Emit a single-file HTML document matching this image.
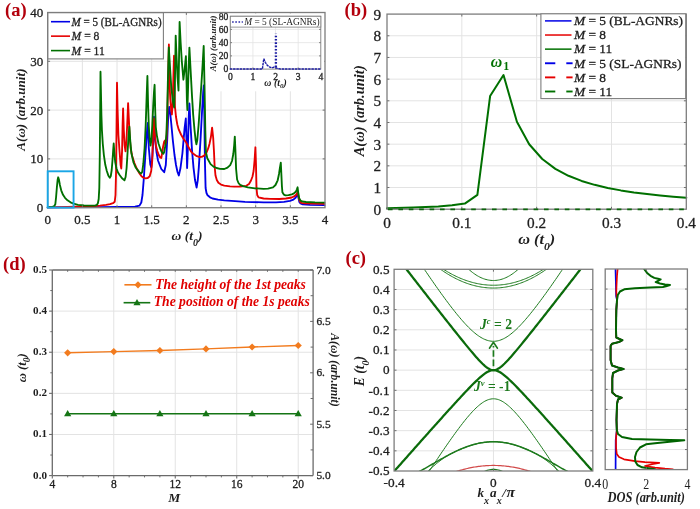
<!DOCTYPE html>
<html><head><meta charset="utf-8"><title>figure</title>
<style>html,body{margin:0;padding:0;background:#fff;} svg{display:block;}</style>
</head><body>
<svg width="700" height="509" viewBox="0 0 700 509">
<rect width="700" height="509" fill="#ffffff"/>
<g style="will-change:transform">
<line x1="82.36" y1="12.50" x2="82.36" y2="207.70" stroke="#e3e3e3" stroke-width="1" />
<line x1="117.03" y1="12.50" x2="117.03" y2="207.70" stroke="#e3e3e3" stroke-width="1" />
<line x1="151.69" y1="12.50" x2="151.69" y2="207.70" stroke="#e3e3e3" stroke-width="1" />
<line x1="186.35" y1="12.50" x2="186.35" y2="207.70" stroke="#e3e3e3" stroke-width="1" />
<line x1="221.01" y1="12.50" x2="221.01" y2="207.70" stroke="#e3e3e3" stroke-width="1" />
<line x1="255.68" y1="12.50" x2="255.68" y2="207.70" stroke="#e3e3e3" stroke-width="1" />
<line x1="290.34" y1="12.50" x2="290.34" y2="207.70" stroke="#e3e3e3" stroke-width="1" />
<line x1="47.70" y1="158.90" x2="325.00" y2="158.90" stroke="#e3e3e3" stroke-width="1" />
<line x1="47.70" y1="110.10" x2="325.00" y2="110.10" stroke="#e3e3e3" stroke-width="1" />
<line x1="47.70" y1="61.30" x2="325.00" y2="61.30" stroke="#e3e3e3" stroke-width="1" />
<polyline points="47.70,207.30 100.00,207.10 135.00,206.60 139.50,205.60 141.30,202.50 142.50,195.00 143.70,180.00 145.50,153.30 147.20,128.30 147.80,123.00 148.80,148.00 150.30,164.50 151.30,167.50 152.50,155.00 153.30,140.00 154.00,116.70 155.20,140.00 156.50,152.00 158.00,160.50 161.30,169.00 164.20,172.20 165.80,165.00 167.20,140.00 168.30,115.00 169.20,107.00 170.30,114.00 171.30,124.00 172.80,140.00 174.50,155.00 176.00,165.00 177.50,172.00 178.80,175.50 180.50,168.00 182.40,153.50 184.60,128.00 185.80,118.50 186.50,140.00 187.10,168.00 187.80,150.00 188.70,118.00 189.40,103.50 190.50,125.00 192.00,150.00 193.50,167.60 195.00,180.00 196.60,187.60 197.80,180.00 198.80,167.60 200.50,140.00 202.00,112.00 203.20,92.00 203.80,85.50 204.40,120.00 204.90,160.00 205.60,188.00 206.50,193.00 207.60,195.30 210.00,197.30 212.50,198.50 218.00,199.70 224.30,200.40 235.00,201.20 245.00,201.80 263.60,202.40 276.00,202.40 284.00,201.80 290.00,200.80 293.40,199.60 295.80,197.50 297.30,193.80 298.30,197.00 299.30,201.80 300.50,203.30 302.80,204.40 310.00,204.90 324.50,205.20" fill="none" stroke="#0000e6" stroke-width="1.85" stroke-linejoin="round" stroke-linecap="round" />
<polyline points="47.70,207.40 60.00,207.20 75.00,206.70 90.00,206.30 100.00,205.60 106.00,204.90 110.00,204.20 113.00,203.20 114.70,201.80 115.50,195.00 116.10,170.00 116.50,130.00 117.00,82.70 117.60,110.00 118.40,135.00 119.60,152.00 120.60,165.00 121.30,168.50 122.10,150.00 122.60,125.00 123.10,108.50 123.80,130.00 124.60,145.00 125.50,151.30 126.50,140.00 127.40,120.00 128.10,103.10 128.80,118.00 129.60,135.00 130.60,148.00 132.20,156.00 134.40,163.00 137.00,169.00 139.50,173.50 141.50,176.20 143.50,177.70 145.50,178.30 147.70,178.00 149.70,176.30 151.20,171.00 152.20,161.00 152.90,140.00 153.40,125.00 154.00,118.30 154.80,133.00 155.80,145.00 157.30,151.00 158.80,155.00 160.20,157.60 161.30,158.00 162.30,152.00 163.20,146.00 164.20,141.50 164.90,140.60 165.50,144.00 166.30,142.00 167.10,125.00 167.80,95.00 168.50,60.00 168.90,44.40 169.40,80.00 170.30,99.00 171.20,110.00 171.90,114.50 172.60,104.00 173.30,80.00 174.00,55.70 174.50,85.00 174.90,106.00 176.00,117.00 177.30,124.50 178.70,129.40 181.00,134.50 183.60,139.00 186.00,142.20 188.20,146.50 190.90,151.30 193.00,153.60 196.80,156.20 199.50,157.00 201.70,156.90 204.20,155.60 206.60,152.30 208.30,148.20 209.60,143.40 210.90,137.00 212.10,127.70 213.20,138.00 214.00,152.00 214.60,166.00 215.50,175.50 216.80,180.00 218.40,182.80 221.00,184.60 224.30,185.60 230.00,186.40 234.20,186.70 240.00,186.50 246.30,185.80 249.00,184.00 251.00,180.50 252.50,176.50 253.60,171.00 254.60,160.00 255.40,147.30 256.00,165.00 256.50,188.00 257.20,195.00 258.50,197.40 263.60,198.50 270.00,198.90 279.30,199.00 286.00,198.50 291.80,197.50 294.50,196.20 296.40,194.50 297.80,191.80 298.90,198.50 300.00,201.50 301.30,202.80 305.00,203.40 324.50,203.80" fill="none" stroke="#e60000" stroke-width="1.85" stroke-linejoin="round" stroke-linecap="round" />
<polyline points="47.70,207.20 50.00,207.10 52.50,206.80 54.30,206.00 55.30,204.30 56.10,197.00 56.90,187.00 57.60,180.00 58.20,177.30 58.90,179.50 59.90,185.00 61.20,190.30 63.00,194.80 65.00,197.80 67.50,200.30 70.50,202.30 73.60,203.70 78.00,204.80 84.00,205.50 90.00,205.70 95.00,205.60 96.80,205.00 97.90,203.20 98.70,199.00 99.30,188.00 99.80,155.00 100.20,110.00 100.50,71.70 100.90,90.00 101.40,115.00 101.90,129.70 102.80,144.00 103.90,155.30 105.30,164.80 106.80,171.00 108.30,175.40 109.80,177.70 110.80,176.00 111.70,170.00 112.60,159.00 113.20,150.00 113.70,143.50 114.30,152.00 115.20,162.00 116.50,168.50 118.00,172.50 119.60,175.00 122.00,178.30 124.50,180.30 125.60,177.00 126.60,168.00 127.60,152.00 128.60,135.00 129.40,126.70 130.20,140.00 131.40,153.30 133.50,162.50 135.50,167.20 137.30,169.70 139.30,172.20 141.00,173.60 142.20,172.00 143.30,164.00 144.60,148.00 145.70,125.00 146.70,95.00 147.40,76.00 148.10,105.00 148.80,126.00 149.60,139.00 150.50,145.50 151.40,140.00 152.30,125.00 153.20,106.00 154.00,92.00 154.60,84.80 155.20,110.00 155.80,127.00 157.00,136.50 158.50,143.50 160.20,148.50 161.80,152.00 163.30,153.80 164.20,152.00 165.30,146.00 166.40,134.00 167.20,112.00 167.90,80.00 168.80,47.40 169.80,64.00 171.20,86.00 172.80,101.00 174.20,107.50 174.80,88.00 175.30,60.00 175.70,35.60 176.50,56.00 177.50,77.00 178.50,90.50 179.00,60.00 179.60,21.90 180.60,42.00 181.80,61.00 183.40,79.70 184.60,70.00 185.90,56.20 186.40,75.00 186.90,100.00 187.40,110.00 188.00,90.00 188.70,65.00 189.40,47.60 190.60,70.00 192.00,96.00 193.20,115.00 194.50,130.00 195.60,140.00 196.40,144.40 197.30,140.00 198.60,125.00 200.00,105.00 201.40,84.00 202.60,65.00 203.70,45.90 204.50,85.00 205.30,130.00 205.90,152.00 207.30,158.20 210.60,164.10 213.50,166.60 216.50,168.00 220.00,168.90 224.30,169.00 227.50,167.60 230.20,165.10 232.00,161.00 233.30,154.00 234.20,145.00 234.80,136.60 235.40,150.00 236.10,169.00 237.10,179.50 238.50,183.00 240.10,184.80 243.00,186.20 247.90,187.30 255.00,188.30 263.60,188.80 268.00,188.60 273.00,187.40 275.50,185.00 277.70,180.30 279.00,174.00 279.90,168.00 280.80,162.70 281.40,175.00 281.90,186.00 282.40,192.30 283.80,194.60 285.50,195.30 288.50,195.10 291.80,194.30 294.00,193.30 295.80,191.80 296.80,189.60 297.60,187.30 298.40,194.00 299.20,198.30 300.50,200.40 302.00,201.40 306.00,202.00 315.00,202.40 324.50,202.60" fill="none" stroke="#007000" stroke-width="1.85" stroke-linejoin="round" stroke-linecap="round" />
<line x1="82.36" y1="207.70" x2="82.36" y2="205.30" stroke="#6e6e6e" stroke-width="1.0" />
<line x1="82.36" y1="12.50" x2="82.36" y2="14.90" stroke="#6e6e6e" stroke-width="1.0" />
<line x1="117.03" y1="207.70" x2="117.03" y2="205.30" stroke="#6e6e6e" stroke-width="1.0" />
<line x1="117.03" y1="12.50" x2="117.03" y2="14.90" stroke="#6e6e6e" stroke-width="1.0" />
<line x1="151.69" y1="207.70" x2="151.69" y2="205.30" stroke="#6e6e6e" stroke-width="1.0" />
<line x1="151.69" y1="12.50" x2="151.69" y2="14.90" stroke="#6e6e6e" stroke-width="1.0" />
<line x1="186.35" y1="207.70" x2="186.35" y2="205.30" stroke="#6e6e6e" stroke-width="1.0" />
<line x1="186.35" y1="12.50" x2="186.35" y2="14.90" stroke="#6e6e6e" stroke-width="1.0" />
<line x1="221.01" y1="207.70" x2="221.01" y2="205.30" stroke="#6e6e6e" stroke-width="1.0" />
<line x1="221.01" y1="12.50" x2="221.01" y2="14.90" stroke="#6e6e6e" stroke-width="1.0" />
<line x1="255.68" y1="207.70" x2="255.68" y2="205.30" stroke="#6e6e6e" stroke-width="1.0" />
<line x1="255.68" y1="12.50" x2="255.68" y2="14.90" stroke="#6e6e6e" stroke-width="1.0" />
<line x1="290.34" y1="207.70" x2="290.34" y2="205.30" stroke="#6e6e6e" stroke-width="1.0" />
<line x1="290.34" y1="12.50" x2="290.34" y2="14.90" stroke="#6e6e6e" stroke-width="1.0" />
<line x1="47.70" y1="158.90" x2="50.10" y2="158.90" stroke="#6e6e6e" stroke-width="1.0" />
<line x1="325.00" y1="158.90" x2="322.60" y2="158.90" stroke="#6e6e6e" stroke-width="1.0" />
<line x1="47.70" y1="110.10" x2="50.10" y2="110.10" stroke="#6e6e6e" stroke-width="1.0" />
<line x1="325.00" y1="110.10" x2="322.60" y2="110.10" stroke="#6e6e6e" stroke-width="1.0" />
<line x1="47.70" y1="61.30" x2="50.10" y2="61.30" stroke="#6e6e6e" stroke-width="1.0" />
<line x1="325.00" y1="61.30" x2="322.60" y2="61.30" stroke="#6e6e6e" stroke-width="1.0" />
<rect x="47.6" y="12.6" width="115.8" height="46.3" fill="#ffffff" stroke="#7d7d7d" stroke-width="1.1"/>
<line x1="51.00" y1="21.70" x2="70.00" y2="21.70" stroke="#0000e6" stroke-width="1.6" />
<text x="71.6" y="25.80" font-family="Liberation Serif" font-size="11.6" fill="#1e1e1e" stroke="#1e1e1e" stroke-width="0.28" textLength="90" lengthAdjust="spacingAndGlyphs"><tspan font-style="italic">M</tspan> = 5 (BL-AGNRs)</text>
<line x1="51.00" y1="36.15" x2="70.00" y2="36.15" stroke="#e60000" stroke-width="1.6" />
<text x="71.6" y="40.25" font-family="Liberation Serif" font-size="11.6" fill="#1e1e1e" stroke="#1e1e1e" stroke-width="0.28"><tspan font-style="italic">M</tspan> = 8</text>
<line x1="51.00" y1="50.60" x2="70.00" y2="50.60" stroke="#007000" stroke-width="1.6" />
<text x="71.6" y="54.70" font-family="Liberation Serif" font-size="11.6" fill="#1e1e1e" stroke="#1e1e1e" stroke-width="0.28"><tspan font-style="italic">M</tspan> = 11</text>
<rect x="206" y="13.3" width="118.3" height="78" fill="#ffffff"/>
<line x1="252.93" y1="16.20" x2="252.93" y2="69.10" stroke="#e3e3e3" stroke-width="0.8" />
<line x1="275.55" y1="16.20" x2="275.55" y2="69.10" stroke="#e3e3e3" stroke-width="0.8" />
<line x1="298.18" y1="16.20" x2="298.18" y2="69.10" stroke="#e3e3e3" stroke-width="0.8" />
<line x1="230.30" y1="55.88" x2="320.80" y2="55.88" stroke="#e3e3e3" stroke-width="0.8" />
<line x1="230.30" y1="42.65" x2="320.80" y2="42.65" stroke="#e3e3e3" stroke-width="0.8" />
<line x1="230.30" y1="29.42" x2="320.80" y2="29.42" stroke="#e3e3e3" stroke-width="0.8" />
<line x1="252.93" y1="69.10" x2="252.93" y2="67.50" stroke="#6e6e6e" stroke-width="1.0" />
<line x1="252.93" y1="16.20" x2="252.93" y2="17.80" stroke="#6e6e6e" stroke-width="1.0" />
<line x1="275.55" y1="69.10" x2="275.55" y2="67.50" stroke="#6e6e6e" stroke-width="1.0" />
<line x1="275.55" y1="16.20" x2="275.55" y2="17.80" stroke="#6e6e6e" stroke-width="1.0" />
<line x1="298.18" y1="69.10" x2="298.18" y2="67.50" stroke="#6e6e6e" stroke-width="1.0" />
<line x1="298.18" y1="16.20" x2="298.18" y2="17.80" stroke="#6e6e6e" stroke-width="1.0" />
<line x1="230.30" y1="55.88" x2="231.90" y2="55.88" stroke="#6e6e6e" stroke-width="1.0" />
<line x1="320.80" y1="55.88" x2="319.20" y2="55.88" stroke="#6e6e6e" stroke-width="1.0" />
<line x1="230.30" y1="42.65" x2="231.90" y2="42.65" stroke="#6e6e6e" stroke-width="1.0" />
<line x1="320.80" y1="42.65" x2="319.20" y2="42.65" stroke="#6e6e6e" stroke-width="1.0" />
<line x1="230.30" y1="29.42" x2="231.90" y2="29.42" stroke="#6e6e6e" stroke-width="1.0" />
<line x1="320.80" y1="29.42" x2="319.20" y2="29.42" stroke="#6e6e6e" stroke-width="1.0" />
<rect x="230.3" y="16.2" width="90.50" height="52.90" fill="none" stroke="#7d7d7d" stroke-width="0.9"/>
<polyline points="230.30,69.00 262.40,69.00 263.20,63.00 263.80,58.70 265.30,62.30 267.30,65.30 270.00,67.20 272.50,67.80 274.60,66.80 275.60,67.20" fill="none" stroke="#1c1ca4" stroke-width="1.45" stroke-linejoin="round" stroke-linecap="round" stroke-dasharray="1.4 1.9" stroke-linecap="butt"/>
<polyline points="275.90,67.60 277.50,68.50 280.00,68.90 320.80,68.90" fill="none" stroke="#1c1ca4" stroke-width="1.45" stroke-linejoin="round" stroke-linecap="round" stroke-dasharray="1.4 1.9" stroke-linecap="butt"/>
<line x1="275.90" y1="67.00" x2="275.90" y2="33.80" stroke="#1c1ca4" stroke-width="2.3" stroke-dasharray="1.6 1.7"/>
<rect x="230.3" y="16.3" width="90.50" height="10.8" fill="#ffffff" stroke="#7d7d7d" stroke-width="0.8"/>
<line x1="232.10" y1="22.00" x2="242.90" y2="22.00" stroke="#2a2aa8" stroke-width="1.5" stroke-dasharray="1.6 1.6"/>
<text x="244.3" y="25.2" font-family="Liberation Serif" font-size="9.4" fill="#1e1e1e"><tspan font-style="italic">M</tspan> = 5 (SL-AGNRs)</text>
<text x="228.30" y="72.40" font-family="Liberation Serif" font-size="9.6" font-weight="normal" font-style="normal" fill="#1e1e1e" text-anchor="end" stroke="#1e1e1e" stroke-width="0.3" >0</text>
<text x="228.30" y="59.17" font-family="Liberation Serif" font-size="9.6" font-weight="normal" font-style="normal" fill="#1e1e1e" text-anchor="end" stroke="#1e1e1e" stroke-width="0.3" >20</text>
<text x="228.30" y="45.95" font-family="Liberation Serif" font-size="9.6" font-weight="normal" font-style="normal" fill="#1e1e1e" text-anchor="end" stroke="#1e1e1e" stroke-width="0.3" >40</text>
<text x="228.30" y="32.72" font-family="Liberation Serif" font-size="9.6" font-weight="normal" font-style="normal" fill="#1e1e1e" text-anchor="end" stroke="#1e1e1e" stroke-width="0.3" >60</text>
<text x="228.30" y="19.50" font-family="Liberation Serif" font-size="9.6" font-weight="normal" font-style="normal" fill="#1e1e1e" text-anchor="end" stroke="#1e1e1e" stroke-width="0.3" >80</text>
<text x="230.30" y="79.50" font-family="Liberation Serif" font-size="9.6" font-weight="normal" font-style="normal" fill="#1e1e1e" text-anchor="middle" stroke="#1e1e1e" stroke-width="0.3" >0</text>
<text x="252.93" y="79.50" font-family="Liberation Serif" font-size="9.6" font-weight="normal" font-style="normal" fill="#1e1e1e" text-anchor="middle" stroke="#1e1e1e" stroke-width="0.3" >1</text>
<text x="275.55" y="79.50" font-family="Liberation Serif" font-size="9.6" font-weight="normal" font-style="normal" fill="#1e1e1e" text-anchor="middle" stroke="#1e1e1e" stroke-width="0.3" >2</text>
<text x="298.18" y="79.50" font-family="Liberation Serif" font-size="9.6" font-weight="normal" font-style="normal" fill="#1e1e1e" text-anchor="middle" stroke="#1e1e1e" stroke-width="0.3" >3</text>
<text x="320.80" y="79.50" font-family="Liberation Serif" font-size="9.6" font-weight="normal" font-style="normal" fill="#1e1e1e" text-anchor="middle" stroke="#1e1e1e" stroke-width="0.3" >4</text>
<text x="275.5" y="86.2" font-family="Liberation Serif" font-size="9.8" font-style="italic" font-weight="bold" fill="#1e1e1e" text-anchor="middle">ω (t<tspan font-size="7" dy="2">0</tspan><tspan dy="-2">)</tspan></text>
<text transform="translate(215.6,43.5) rotate(-90)" font-family="Liberation Serif" font-size="8.9" font-style="italic" font-weight="bold" fill="#1e1e1e" text-anchor="middle">A(ω) (arb.unit)</text>
<rect x="47.7" y="12.5" width="277.30" height="195.20" fill="none" stroke="#7d7d7d" stroke-width="1.3"/>
<rect x="47.70" y="171.3" width="25.86" height="36.30" fill="none" stroke="#1aa6e6" stroke-width="1.9"/>
<text x="43.30" y="212.10" font-family="Liberation Serif" font-size="13" font-weight="normal" font-style="normal" fill="#1e1e1e" text-anchor="end" stroke="#1e1e1e" stroke-width="0.3" >0</text>
<text x="43.30" y="163.30" font-family="Liberation Serif" font-size="13" font-weight="normal" font-style="normal" fill="#1e1e1e" text-anchor="end" stroke="#1e1e1e" stroke-width="0.3" >10</text>
<text x="43.30" y="114.50" font-family="Liberation Serif" font-size="13" font-weight="normal" font-style="normal" fill="#1e1e1e" text-anchor="end" stroke="#1e1e1e" stroke-width="0.3" >20</text>
<text x="43.30" y="65.70" font-family="Liberation Serif" font-size="13" font-weight="normal" font-style="normal" fill="#1e1e1e" text-anchor="end" stroke="#1e1e1e" stroke-width="0.3" >30</text>
<text x="43.30" y="16.90" font-family="Liberation Serif" font-size="13" font-weight="normal" font-style="normal" fill="#1e1e1e" text-anchor="end" stroke="#1e1e1e" stroke-width="0.3" >40</text>
<text x="47.70" y="223.80" font-family="Liberation Serif" font-size="13" font-weight="normal" font-style="normal" fill="#1e1e1e" text-anchor="middle" stroke="#1e1e1e" stroke-width="0.3" >0</text>
<text x="82.36" y="223.80" font-family="Liberation Serif" font-size="13" font-weight="normal" font-style="normal" fill="#1e1e1e" text-anchor="middle" stroke="#1e1e1e" stroke-width="0.3" >0.5</text>
<text x="117.03" y="223.80" font-family="Liberation Serif" font-size="13" font-weight="normal" font-style="normal" fill="#1e1e1e" text-anchor="middle" stroke="#1e1e1e" stroke-width="0.3" >1</text>
<text x="151.69" y="223.80" font-family="Liberation Serif" font-size="13" font-weight="normal" font-style="normal" fill="#1e1e1e" text-anchor="middle" stroke="#1e1e1e" stroke-width="0.3" >1.5</text>
<text x="186.35" y="223.80" font-family="Liberation Serif" font-size="13" font-weight="normal" font-style="normal" fill="#1e1e1e" text-anchor="middle" stroke="#1e1e1e" stroke-width="0.3" >2</text>
<text x="221.01" y="223.80" font-family="Liberation Serif" font-size="13" font-weight="normal" font-style="normal" fill="#1e1e1e" text-anchor="middle" stroke="#1e1e1e" stroke-width="0.3" >2.5</text>
<text x="255.68" y="223.80" font-family="Liberation Serif" font-size="13" font-weight="normal" font-style="normal" fill="#1e1e1e" text-anchor="middle" stroke="#1e1e1e" stroke-width="0.3" >3</text>
<text x="290.34" y="223.80" font-family="Liberation Serif" font-size="13" font-weight="normal" font-style="normal" fill="#1e1e1e" text-anchor="middle" stroke="#1e1e1e" stroke-width="0.3" >3.5</text>
<text x="325.00" y="223.80" font-family="Liberation Serif" font-size="13" font-weight="normal" font-style="normal" fill="#1e1e1e" text-anchor="middle" stroke="#1e1e1e" stroke-width="0.3" >4</text>
<text x="171.5" y="240.0" font-family="Liberation Serif" font-size="13.5" font-style="italic" font-weight="bold" fill="#1e1e1e">ω (t<tspan font-size="10" dy="5.5">0</tspan><tspan dy="-5.5">)</tspan></text>
<text transform="translate(25.3,109.6) rotate(-90)" font-family="Liberation Serif" font-size="13.1" font-style="italic" font-weight="bold" fill="#1e1e1e" text-anchor="middle">A(ω) (arb.unit)</text>
<text x="5.00" y="16.00" font-family="Liberation Serif" font-size="18.5" font-weight="bold" font-style="normal" fill="#b3000c" text-anchor="start" >(a)</text>
<line x1="461.82" y1="14.10" x2="461.82" y2="209.20" stroke="#e3e3e3" stroke-width="1" />
<line x1="536.65" y1="14.10" x2="536.65" y2="209.20" stroke="#e3e3e3" stroke-width="1" />
<line x1="611.47" y1="14.10" x2="611.47" y2="209.20" stroke="#e3e3e3" stroke-width="1" />
<line x1="387.00" y1="187.52" x2="686.30" y2="187.52" stroke="#e3e3e3" stroke-width="1" />
<line x1="387.00" y1="165.84" x2="686.30" y2="165.84" stroke="#e3e3e3" stroke-width="1" />
<line x1="387.00" y1="144.17" x2="686.30" y2="144.17" stroke="#e3e3e3" stroke-width="1" />
<line x1="387.00" y1="122.49" x2="686.30" y2="122.49" stroke="#e3e3e3" stroke-width="1" />
<line x1="387.00" y1="100.81" x2="686.30" y2="100.81" stroke="#e3e3e3" stroke-width="1" />
<line x1="387.00" y1="79.13" x2="686.30" y2="79.13" stroke="#e3e3e3" stroke-width="1" />
<line x1="387.00" y1="57.46" x2="686.30" y2="57.46" stroke="#e3e3e3" stroke-width="1" />
<line x1="387.00" y1="35.78" x2="686.30" y2="35.78" stroke="#e3e3e3" stroke-width="1" />
<line x1="461.82" y1="209.20" x2="461.82" y2="206.80" stroke="#6e6e6e" stroke-width="1.0" />
<line x1="461.82" y1="14.10" x2="461.82" y2="16.50" stroke="#6e6e6e" stroke-width="1.0" />
<line x1="536.65" y1="209.20" x2="536.65" y2="206.80" stroke="#6e6e6e" stroke-width="1.0" />
<line x1="536.65" y1="14.10" x2="536.65" y2="16.50" stroke="#6e6e6e" stroke-width="1.0" />
<line x1="611.47" y1="209.20" x2="611.47" y2="206.80" stroke="#6e6e6e" stroke-width="1.0" />
<line x1="611.47" y1="14.10" x2="611.47" y2="16.50" stroke="#6e6e6e" stroke-width="1.0" />
<line x1="387.00" y1="187.52" x2="389.40" y2="187.52" stroke="#6e6e6e" stroke-width="1.0" />
<line x1="686.30" y1="187.52" x2="683.90" y2="187.52" stroke="#6e6e6e" stroke-width="1.0" />
<line x1="387.00" y1="165.84" x2="389.40" y2="165.84" stroke="#6e6e6e" stroke-width="1.0" />
<line x1="686.30" y1="165.84" x2="683.90" y2="165.84" stroke="#6e6e6e" stroke-width="1.0" />
<line x1="387.00" y1="144.17" x2="389.40" y2="144.17" stroke="#6e6e6e" stroke-width="1.0" />
<line x1="686.30" y1="144.17" x2="683.90" y2="144.17" stroke="#6e6e6e" stroke-width="1.0" />
<line x1="387.00" y1="122.49" x2="389.40" y2="122.49" stroke="#6e6e6e" stroke-width="1.0" />
<line x1="686.30" y1="122.49" x2="683.90" y2="122.49" stroke="#6e6e6e" stroke-width="1.0" />
<line x1="387.00" y1="100.81" x2="389.40" y2="100.81" stroke="#6e6e6e" stroke-width="1.0" />
<line x1="686.30" y1="100.81" x2="683.90" y2="100.81" stroke="#6e6e6e" stroke-width="1.0" />
<line x1="387.00" y1="79.13" x2="389.40" y2="79.13" stroke="#6e6e6e" stroke-width="1.0" />
<line x1="686.30" y1="79.13" x2="683.90" y2="79.13" stroke="#6e6e6e" stroke-width="1.0" />
<line x1="387.00" y1="57.46" x2="389.40" y2="57.46" stroke="#6e6e6e" stroke-width="1.0" />
<line x1="686.30" y1="57.46" x2="683.90" y2="57.46" stroke="#6e6e6e" stroke-width="1.0" />
<line x1="387.00" y1="35.78" x2="389.40" y2="35.78" stroke="#6e6e6e" stroke-width="1.0" />
<line x1="686.30" y1="35.78" x2="683.90" y2="35.78" stroke="#6e6e6e" stroke-width="1.0" />
<polyline points="387.00,208.33 413.19,207.47 438.33,206.60 452.10,205.30 464.82,203.56 477.39,194.89 490.11,96.04 503.50,75.01 516.90,121.84 529.17,144.23 542.26,158.99 555.36,168.83 568.45,175.78 581.55,180.92 594.64,184.84 607.73,187.92 620.83,190.39 633.92,192.40 647.02,194.08 660.11,195.49 673.21,196.69 686.30,197.72" fill="none" stroke="#007000" stroke-width="2.0" stroke-linejoin="round" stroke-linecap="round" />
<rect x="387.0" y="14.1" width="299.30" height="195.10" fill="none" stroke="#7d7d7d" stroke-width="1.3"/>
<line x1="388.00" y1="209.40" x2="686.30" y2="209.40" stroke="#0a660a" stroke-width="1.8" stroke-dasharray="4.6 5.8"/>
<text x="381.20" y="214.80" font-family="Liberation Serif" font-size="15.3" font-weight="normal" font-style="normal" fill="#1e1e1e" text-anchor="end" stroke="#1e1e1e" stroke-width="0.3" >0</text>
<text x="381.20" y="193.12" font-family="Liberation Serif" font-size="15.3" font-weight="normal" font-style="normal" fill="#1e1e1e" text-anchor="end" stroke="#1e1e1e" stroke-width="0.3" >1</text>
<text x="381.20" y="171.44" font-family="Liberation Serif" font-size="15.3" font-weight="normal" font-style="normal" fill="#1e1e1e" text-anchor="end" stroke="#1e1e1e" stroke-width="0.3" >2</text>
<text x="381.20" y="149.77" font-family="Liberation Serif" font-size="15.3" font-weight="normal" font-style="normal" fill="#1e1e1e" text-anchor="end" stroke="#1e1e1e" stroke-width="0.3" >3</text>
<text x="381.20" y="128.09" font-family="Liberation Serif" font-size="15.3" font-weight="normal" font-style="normal" fill="#1e1e1e" text-anchor="end" stroke="#1e1e1e" stroke-width="0.3" >4</text>
<text x="381.20" y="106.41" font-family="Liberation Serif" font-size="15.3" font-weight="normal" font-style="normal" fill="#1e1e1e" text-anchor="end" stroke="#1e1e1e" stroke-width="0.3" >5</text>
<text x="381.20" y="84.73" font-family="Liberation Serif" font-size="15.3" font-weight="normal" font-style="normal" fill="#1e1e1e" text-anchor="end" stroke="#1e1e1e" stroke-width="0.3" >6</text>
<text x="381.20" y="63.06" font-family="Liberation Serif" font-size="15.3" font-weight="normal" font-style="normal" fill="#1e1e1e" text-anchor="end" stroke="#1e1e1e" stroke-width="0.3" >7</text>
<text x="381.20" y="41.38" font-family="Liberation Serif" font-size="15.3" font-weight="normal" font-style="normal" fill="#1e1e1e" text-anchor="end" stroke="#1e1e1e" stroke-width="0.3" >8</text>
<text x="381.20" y="19.70" font-family="Liberation Serif" font-size="15.3" font-weight="normal" font-style="normal" fill="#1e1e1e" text-anchor="end" stroke="#1e1e1e" stroke-width="0.3" >9</text>
<text x="387.00" y="227.60" font-family="Liberation Serif" font-size="15.3" font-weight="normal" font-style="normal" fill="#1e1e1e" text-anchor="middle" stroke="#1e1e1e" stroke-width="0.3" >0</text>
<text x="461.82" y="227.60" font-family="Liberation Serif" font-size="15.3" font-weight="normal" font-style="normal" fill="#1e1e1e" text-anchor="middle" stroke="#1e1e1e" stroke-width="0.3" >0.1</text>
<text x="536.65" y="227.60" font-family="Liberation Serif" font-size="15.3" font-weight="normal" font-style="normal" fill="#1e1e1e" text-anchor="middle" stroke="#1e1e1e" stroke-width="0.3" >0.2</text>
<text x="611.47" y="227.60" font-family="Liberation Serif" font-size="15.3" font-weight="normal" font-style="normal" fill="#1e1e1e" text-anchor="middle" stroke="#1e1e1e" stroke-width="0.3" >0.3</text>
<text x="686.30" y="227.60" font-family="Liberation Serif" font-size="15.3" font-weight="normal" font-style="normal" fill="#1e1e1e" text-anchor="middle" stroke="#1e1e1e" stroke-width="0.3" >0.4</text>
<text x="518.3" y="244.4" font-family="Liberation Serif" font-size="14.5" font-style="italic" font-weight="bold" fill="#1e1e1e" textLength="37" lengthAdjust="spacingAndGlyphs">ω (t<tspan font-size="10.5" dy="6">0</tspan><tspan dy="-6">)</tspan></text>
<text transform="translate(364.0,110.8) rotate(-90)" font-family="Liberation Serif" font-size="14.5" font-style="italic" font-weight="bold" fill="#1e1e1e" text-anchor="middle">A(ω) (arb.unit)</text>
<rect x="540.9" y="13.8" width="144.8" height="84.8" fill="#ffffff" stroke="#7d7d7d" stroke-width="1.1"/>
<line x1="545.00" y1="20.90" x2="571.50" y2="20.90" stroke="#0000e6" stroke-width="1.5" />
<text x="573.9" y="25.20" font-family="Liberation Serif" font-size="13.4" fill="#1e1e1e" stroke="#1e1e1e" stroke-width="0.3"><tspan font-style="italic">M</tspan> = 5 (BL-AGNRs)</text>
<line x1="545.00" y1="35.02" x2="571.50" y2="35.02" stroke="#e60000" stroke-width="1.5" />
<text x="573.9" y="39.32" font-family="Liberation Serif" font-size="13.4" fill="#1e1e1e" stroke="#1e1e1e" stroke-width="0.3"><tspan font-style="italic">M</tspan> = 8</text>
<line x1="545.00" y1="49.14" x2="571.50" y2="49.14" stroke="#007000" stroke-width="1.5" />
<text x="573.9" y="53.44" font-family="Liberation Serif" font-size="13.4" fill="#1e1e1e" stroke="#1e1e1e" stroke-width="0.3"><tspan font-style="italic">M</tspan> = 11</text>
<line x1="545.00" y1="63.26" x2="555.30" y2="63.26" stroke="#0000e6" stroke-width="1.9" />
<line x1="566.30" y1="63.26" x2="572.60" y2="63.26" stroke="#0000e6" stroke-width="1.9" />
<text x="573.9" y="67.56" font-family="Liberation Serif" font-size="13.4" fill="#1e1e1e" stroke="#1e1e1e" stroke-width="0.3"><tspan font-style="italic">M</tspan> = 5 (SL-AGNRs)</text>
<line x1="545.00" y1="77.38" x2="555.30" y2="77.38" stroke="#e60000" stroke-width="1.9" />
<line x1="566.30" y1="77.38" x2="572.60" y2="77.38" stroke="#e60000" stroke-width="1.9" />
<text x="573.9" y="81.68" font-family="Liberation Serif" font-size="13.4" fill="#1e1e1e" stroke="#1e1e1e" stroke-width="0.3"><tspan font-style="italic">M</tspan> = 8</text>
<line x1="545.00" y1="91.50" x2="555.30" y2="91.50" stroke="#007000" stroke-width="1.9" />
<line x1="566.30" y1="91.50" x2="572.60" y2="91.50" stroke="#007000" stroke-width="1.9" />
<text x="573.9" y="95.80" font-family="Liberation Serif" font-size="13.4" fill="#1e1e1e" stroke="#1e1e1e" stroke-width="0.3"><tspan font-style="italic">M</tspan> = 11</text>
<text x="490.8" y="66.5" font-family="Liberation Serif" font-size="15.8" font-weight="bold" fill="#007000"><tspan font-style="italic">ω</tspan><tspan font-size="12" dx="1.0" dy="3">1</tspan></text>
<text x="344.50" y="16.20" font-family="Liberation Serif" font-size="18.5" font-weight="bold" font-style="normal" fill="#b3000c" text-anchor="start" >(b)</text>
<line x1="113.78" y1="270.00" x2="113.78" y2="475.60" stroke="#e3e3e3" stroke-width="1" />
<line x1="175.26" y1="270.00" x2="175.26" y2="475.60" stroke="#e3e3e3" stroke-width="1" />
<line x1="236.74" y1="270.00" x2="236.74" y2="475.60" stroke="#e3e3e3" stroke-width="1" />
<line x1="298.22" y1="270.00" x2="298.22" y2="475.60" stroke="#e3e3e3" stroke-width="1" />
<line x1="52.30" y1="434.48" x2="313.10" y2="434.48" stroke="#e3e3e3" stroke-width="1" />
<line x1="52.30" y1="393.36" x2="313.10" y2="393.36" stroke="#e3e3e3" stroke-width="1" />
<line x1="52.30" y1="352.24" x2="313.10" y2="352.24" stroke="#e3e3e3" stroke-width="1" />
<line x1="52.30" y1="311.12" x2="313.10" y2="311.12" stroke="#e3e3e3" stroke-width="1" />
<polyline points="67.67,352.80 113.78,351.60 159.89,350.50 206.00,348.90 252.11,347.00 298.22,345.50" fill="none" stroke="#f27b1e" stroke-width="1.4" stroke-linejoin="round" stroke-linecap="round" />
<polyline points="67.67,413.70 113.78,413.70 159.89,413.70 206.00,413.70 252.11,413.70 298.22,413.70" fill="none" stroke="#157515" stroke-width="1.4" stroke-linejoin="round" stroke-linecap="round" />
<polygon points="64.07,352.80 67.67,349.20 71.27,352.80 67.67,356.40" fill="#f27b1e"/>
<polygon points="110.18,351.60 113.78,348.00 117.38,351.60 113.78,355.20" fill="#f27b1e"/>
<polygon points="156.29,350.50 159.89,346.90 163.49,350.50 159.89,354.10" fill="#f27b1e"/>
<polygon points="202.40,348.90 206.00,345.30 209.60,348.90 206.00,352.50" fill="#f27b1e"/>
<polygon points="248.51,347.00 252.11,343.40 255.71,347.00 252.11,350.60" fill="#f27b1e"/>
<polygon points="294.62,345.50 298.22,341.90 301.82,345.50 298.22,349.10" fill="#f27b1e"/>
<polygon points="64.07,416.30 67.67,410.10 71.27,416.30" fill="#157515"/>
<polygon points="110.18,416.30 113.78,410.10 117.38,416.30" fill="#157515"/>
<polygon points="156.29,416.30 159.89,410.10 163.49,416.30" fill="#157515"/>
<polygon points="202.40,416.30 206.00,410.10 209.60,416.30" fill="#157515"/>
<polygon points="248.51,416.30 252.11,410.10 255.71,416.30" fill="#157515"/>
<polygon points="294.62,416.30 298.22,410.10 301.82,416.30" fill="#157515"/>
<line x1="124.40" y1="284.80" x2="151.50" y2="284.80" stroke="#f27b1e" stroke-width="1.6" />
<polygon points="134.40,284.80 138.00,281.20 141.60,284.80 138.00,288.40" fill="#f27b1e"/>
<line x1="123.60" y1="302.70" x2="150.30" y2="302.70" stroke="#157515" stroke-width="1.6" />
<polygon points="133.40,305.30 137.00,299.10 140.60,305.30" fill="#157515"/>
<text x="155.20" y="288.60" font-family="Liberation Serif" font-size="13.6" font-weight="bold" font-style="italic" fill="#e00000" text-anchor="start" >The height of the 1st peaks</text>
<text x="153.80" y="306.30" font-family="Liberation Serif" font-size="13.6" font-weight="bold" font-style="italic" fill="#e00000" text-anchor="start" >The position of the 1s peaks</text>
<line x1="52.30" y1="270.00" x2="313.10" y2="270.00" stroke="#6a6a6a" stroke-width="1.3" />
<line x1="52.30" y1="475.60" x2="313.10" y2="475.60" stroke="#6a6a6a" stroke-width="1.3" />
<line x1="52.30" y1="270.00" x2="52.30" y2="475.60" stroke="#6a6a6a" stroke-width="1.3" />
<line x1="313.10" y1="270.00" x2="313.10" y2="475.60" stroke="#6a6a6a" stroke-width="1.3" />
<line x1="49.10" y1="475.60" x2="52.30" y2="475.60" stroke="#6a6a6a" stroke-width="1.1" />
<line x1="49.10" y1="434.48" x2="52.30" y2="434.48" stroke="#6a6a6a" stroke-width="1.1" />
<line x1="49.10" y1="393.36" x2="52.30" y2="393.36" stroke="#6a6a6a" stroke-width="1.1" />
<line x1="49.10" y1="352.24" x2="52.30" y2="352.24" stroke="#6a6a6a" stroke-width="1.1" />
<line x1="49.10" y1="311.12" x2="52.30" y2="311.12" stroke="#6a6a6a" stroke-width="1.1" />
<line x1="49.10" y1="270.00" x2="52.30" y2="270.00" stroke="#6a6a6a" stroke-width="1.1" />
<line x1="50.30" y1="455.04" x2="52.30" y2="455.04" stroke="#6a6a6a" stroke-width="1" />
<line x1="50.30" y1="413.92" x2="52.30" y2="413.92" stroke="#6a6a6a" stroke-width="1" />
<line x1="50.30" y1="372.80" x2="52.30" y2="372.80" stroke="#6a6a6a" stroke-width="1" />
<line x1="50.30" y1="331.68" x2="52.30" y2="331.68" stroke="#6a6a6a" stroke-width="1" />
<line x1="50.30" y1="290.56" x2="52.30" y2="290.56" stroke="#6a6a6a" stroke-width="1" />
<line x1="52.30" y1="475.60" x2="52.30" y2="478.60" stroke="#6a6a6a" stroke-width="1.1" />
<line x1="113.78" y1="475.60" x2="113.78" y2="478.60" stroke="#6a6a6a" stroke-width="1.1" />
<line x1="175.26" y1="475.60" x2="175.26" y2="478.60" stroke="#6a6a6a" stroke-width="1.1" />
<line x1="236.74" y1="475.60" x2="236.74" y2="478.60" stroke="#6a6a6a" stroke-width="1.1" />
<line x1="298.22" y1="475.60" x2="298.22" y2="478.60" stroke="#6a6a6a" stroke-width="1.1" />
<line x1="67.67" y1="475.60" x2="67.67" y2="477.40" stroke="#6a6a6a" stroke-width="1" />
<line x1="83.04" y1="475.60" x2="83.04" y2="477.40" stroke="#6a6a6a" stroke-width="1" />
<line x1="98.41" y1="475.60" x2="98.41" y2="477.40" stroke="#6a6a6a" stroke-width="1" />
<line x1="129.15" y1="475.60" x2="129.15" y2="477.40" stroke="#6a6a6a" stroke-width="1" />
<line x1="144.52" y1="475.60" x2="144.52" y2="477.40" stroke="#6a6a6a" stroke-width="1" />
<line x1="159.89" y1="475.60" x2="159.89" y2="477.40" stroke="#6a6a6a" stroke-width="1" />
<line x1="190.63" y1="475.60" x2="190.63" y2="477.40" stroke="#6a6a6a" stroke-width="1" />
<line x1="206.00" y1="475.60" x2="206.00" y2="477.40" stroke="#6a6a6a" stroke-width="1" />
<line x1="221.37" y1="475.60" x2="221.37" y2="477.40" stroke="#6a6a6a" stroke-width="1" />
<line x1="252.11" y1="475.60" x2="252.11" y2="477.40" stroke="#6a6a6a" stroke-width="1" />
<line x1="267.48" y1="475.60" x2="267.48" y2="477.40" stroke="#6a6a6a" stroke-width="1" />
<line x1="282.85" y1="475.60" x2="282.85" y2="477.40" stroke="#6a6a6a" stroke-width="1" />
<line x1="67.67" y1="270.00" x2="67.67" y2="271.80" stroke="#6a6a6a" stroke-width="1" />
<line x1="83.04" y1="270.00" x2="83.04" y2="271.80" stroke="#6a6a6a" stroke-width="1" />
<line x1="98.41" y1="270.00" x2="98.41" y2="271.80" stroke="#6a6a6a" stroke-width="1" />
<line x1="113.78" y1="270.00" x2="113.78" y2="271.80" stroke="#6a6a6a" stroke-width="1" />
<line x1="129.15" y1="270.00" x2="129.15" y2="271.80" stroke="#6a6a6a" stroke-width="1" />
<line x1="144.52" y1="270.00" x2="144.52" y2="271.80" stroke="#6a6a6a" stroke-width="1" />
<line x1="159.89" y1="270.00" x2="159.89" y2="271.80" stroke="#6a6a6a" stroke-width="1" />
<line x1="175.26" y1="270.00" x2="175.26" y2="271.80" stroke="#6a6a6a" stroke-width="1" />
<line x1="190.63" y1="270.00" x2="190.63" y2="271.80" stroke="#6a6a6a" stroke-width="1" />
<line x1="206.00" y1="270.00" x2="206.00" y2="271.80" stroke="#6a6a6a" stroke-width="1" />
<line x1="221.37" y1="270.00" x2="221.37" y2="271.80" stroke="#6a6a6a" stroke-width="1" />
<line x1="236.74" y1="270.00" x2="236.74" y2="271.80" stroke="#6a6a6a" stroke-width="1" />
<line x1="252.11" y1="270.00" x2="252.11" y2="271.80" stroke="#6a6a6a" stroke-width="1" />
<line x1="267.48" y1="270.00" x2="267.48" y2="271.80" stroke="#6a6a6a" stroke-width="1" />
<line x1="282.85" y1="270.00" x2="282.85" y2="271.80" stroke="#6a6a6a" stroke-width="1" />
<line x1="298.22" y1="270.00" x2="298.22" y2="271.80" stroke="#6a6a6a" stroke-width="1" />
<line x1="310.10" y1="475.60" x2="313.10" y2="475.60" stroke="#6a6a6a" stroke-width="1" />
<line x1="310.60" y1="449.90" x2="313.10" y2="449.90" stroke="#6a6a6a" stroke-width="1" />
<line x1="310.10" y1="424.20" x2="313.10" y2="424.20" stroke="#6a6a6a" stroke-width="1" />
<line x1="310.60" y1="398.50" x2="313.10" y2="398.50" stroke="#6a6a6a" stroke-width="1" />
<line x1="310.10" y1="372.80" x2="313.10" y2="372.80" stroke="#6a6a6a" stroke-width="1" />
<line x1="310.60" y1="347.10" x2="313.10" y2="347.10" stroke="#6a6a6a" stroke-width="1" />
<line x1="310.10" y1="321.40" x2="313.10" y2="321.40" stroke="#6a6a6a" stroke-width="1" />
<line x1="310.60" y1="295.70" x2="313.10" y2="295.70" stroke="#6a6a6a" stroke-width="1" />
<line x1="310.10" y1="270.00" x2="313.10" y2="270.00" stroke="#6a6a6a" stroke-width="1" />
<text x="47.00" y="478.50" font-family="Liberation Serif" font-size="10.6" font-weight="bold" font-style="normal" fill="#1e1e1e" text-anchor="end" textLength="13.9" lengthAdjust="spacingAndGlyphs">0.0</text>
<text x="47.00" y="437.38" font-family="Liberation Serif" font-size="10.6" font-weight="bold" font-style="normal" fill="#1e1e1e" text-anchor="end" textLength="13.9" lengthAdjust="spacingAndGlyphs">0.1</text>
<text x="47.00" y="396.26" font-family="Liberation Serif" font-size="10.6" font-weight="bold" font-style="normal" fill="#1e1e1e" text-anchor="end" textLength="13.9" lengthAdjust="spacingAndGlyphs">0.2</text>
<text x="47.00" y="355.14" font-family="Liberation Serif" font-size="10.6" font-weight="bold" font-style="normal" fill="#1e1e1e" text-anchor="end" textLength="13.9" lengthAdjust="spacingAndGlyphs">0.3</text>
<text x="47.00" y="314.02" font-family="Liberation Serif" font-size="10.6" font-weight="bold" font-style="normal" fill="#1e1e1e" text-anchor="end" textLength="13.9" lengthAdjust="spacingAndGlyphs">0.4</text>
<text x="47.00" y="272.90" font-family="Liberation Serif" font-size="10.6" font-weight="bold" font-style="normal" fill="#1e1e1e" text-anchor="end" textLength="13.9" lengthAdjust="spacingAndGlyphs">0.5</text>
<text x="316.40" y="479.20" font-family="Liberation Serif" font-size="11.4" font-weight="normal" font-style="normal" fill="#1e1e1e" text-anchor="start" stroke="#1e1e1e" stroke-width="0.3" >5.0</text>
<text x="316.40" y="427.80" font-family="Liberation Serif" font-size="11.4" font-weight="normal" font-style="normal" fill="#1e1e1e" text-anchor="start" stroke="#1e1e1e" stroke-width="0.3" >5.5</text>
<text x="316.40" y="376.40" font-family="Liberation Serif" font-size="11.4" font-weight="normal" font-style="normal" fill="#1e1e1e" text-anchor="start" stroke="#1e1e1e" stroke-width="0.3" >6.</text>
<text x="316.40" y="325.00" font-family="Liberation Serif" font-size="11.4" font-weight="normal" font-style="normal" fill="#1e1e1e" text-anchor="start" stroke="#1e1e1e" stroke-width="0.3" >6.5</text>
<text x="316.40" y="273.60" font-family="Liberation Serif" font-size="11.4" font-weight="normal" font-style="normal" fill="#1e1e1e" text-anchor="start" stroke="#1e1e1e" stroke-width="0.3" >7.0</text>
<text x="52.30" y="488.40" font-family="Liberation Serif" font-size="11.5" font-weight="normal" font-style="normal" fill="#1e1e1e" text-anchor="middle" stroke="#1e1e1e" stroke-width="0.3" >4</text>
<text x="113.78" y="488.40" font-family="Liberation Serif" font-size="11.5" font-weight="normal" font-style="normal" fill="#1e1e1e" text-anchor="middle" stroke="#1e1e1e" stroke-width="0.3" >8</text>
<text x="175.26" y="488.40" font-family="Liberation Serif" font-size="11.5" font-weight="normal" font-style="normal" fill="#1e1e1e" text-anchor="middle" stroke="#1e1e1e" stroke-width="0.3" >12</text>
<text x="236.74" y="488.40" font-family="Liberation Serif" font-size="11.5" font-weight="normal" font-style="normal" fill="#1e1e1e" text-anchor="middle" stroke="#1e1e1e" stroke-width="0.3" >16</text>
<text x="298.22" y="488.40" font-family="Liberation Serif" font-size="11.5" font-weight="normal" font-style="normal" fill="#1e1e1e" text-anchor="middle" stroke="#1e1e1e" stroke-width="0.3" >20</text>
<text x="174.30" y="501.50" font-family="Liberation Serif" font-size="13.5" font-weight="bold" font-style="italic" fill="#1e1e1e" text-anchor="middle" >M</text>
<text transform="translate(25.6,382.3) rotate(-90)" font-family="Liberation Serif" font-size="12.6" font-style="italic" font-weight="bold" fill="#1e1e1e">ω (t<tspan font-size="9.5" dy="4.6">0</tspan><tspan dy="-4.6">)</tspan></text>
<text transform="translate(330.6,370) rotate(90)" font-family="Liberation Serif" font-size="11.7" font-style="italic" font-weight="bold" fill="#1e1e1e" text-anchor="middle">A(ω) (arb.unit)</text>
<text x="3.00" y="270.40" font-family="Liberation Serif" font-size="18.5" font-weight="bold" font-style="normal" fill="#b3000c" text-anchor="start" >(d)</text>
<line x1="394.10" y1="450.83" x2="592.80" y2="450.83" stroke="#e3e3e3" stroke-width="1" />
<line x1="394.10" y1="430.66" x2="592.80" y2="430.66" stroke="#e3e3e3" stroke-width="1" />
<line x1="394.10" y1="410.49" x2="592.80" y2="410.49" stroke="#e3e3e3" stroke-width="1" />
<line x1="394.10" y1="390.32" x2="592.80" y2="390.32" stroke="#e3e3e3" stroke-width="1" />
<line x1="394.10" y1="370.15" x2="592.80" y2="370.15" stroke="#e3e3e3" stroke-width="1" />
<line x1="394.10" y1="349.98" x2="592.80" y2="349.98" stroke="#e3e3e3" stroke-width="1" />
<line x1="394.10" y1="329.81" x2="592.80" y2="329.81" stroke="#e3e3e3" stroke-width="1" />
<line x1="394.10" y1="309.64" x2="592.80" y2="309.64" stroke="#e3e3e3" stroke-width="1" />
<line x1="394.10" y1="289.47" x2="592.80" y2="289.47" stroke="#e3e3e3" stroke-width="1" />
<line x1="493.45" y1="269.30" x2="493.45" y2="471.00" stroke="#e3e3e3" stroke-width="1" />
<clipPath id="cc"><rect x="394.1" y="269.3" width="198.70" height="201.70"/></clipPath>
<g clip-path="url(#cc)">
<polyline points="394.10,253.36 395.34,254.97 396.58,256.57 397.83,258.17 399.07,259.77 400.31,261.37 401.55,262.97 402.79,264.57 404.04,266.17 405.28,267.77 406.52,269.36 407.76,270.96 409.00,272.56 410.24,274.16 411.49,275.76 412.73,277.35 413.97,278.95 415.21,280.55 416.45,282.14 417.70,283.74 418.94,285.34 420.18,286.93 421.42,288.52 422.66,290.12 423.90,291.71 425.15,293.31 426.39,294.90 427.63,296.49 428.87,298.08 430.11,299.67 431.36,301.26 432.60,302.85 433.84,304.44 435.08,306.03 436.32,307.61 437.57,309.20 438.81,310.78 440.05,312.37 441.29,313.95 442.53,315.53 443.77,317.11 445.02,318.69 446.26,320.26 447.50,321.84 448.74,323.41 449.98,324.98 451.23,326.55 452.47,328.12 453.71,329.68 454.95,331.25 456.19,332.80 457.44,334.36 458.68,335.91 459.92,337.46 461.16,339.00 462.40,340.54 463.64,342.08 464.89,343.60 466.13,345.12 467.37,346.64 468.61,348.14 469.85,349.63 471.10,351.12 472.34,352.59 473.58,354.04 474.82,355.48 476.06,356.90 477.31,358.29 478.55,359.66 479.79,360.99 481.03,362.28 482.27,363.53 483.51,364.71 484.76,365.83 486.00,366.86 487.24,367.79 488.48,368.59 489.72,369.25 490.97,369.74 492.21,370.05 493.45,370.15 494.69,370.05 495.93,369.74 497.18,369.25 498.42,368.59 499.66,367.79 500.90,366.86 502.14,365.83 503.38,364.71 504.63,363.53 505.87,362.28 507.11,360.99 508.35,359.66 509.59,358.29 510.84,356.90 512.08,355.48 513.32,354.04 514.56,352.59 515.80,351.12 517.05,349.63 518.29,348.14 519.53,346.64 520.77,345.12 522.01,343.60 523.25,342.08 524.50,340.54 525.74,339.00 526.98,337.46 528.22,335.91 529.46,334.36 530.71,332.80 531.95,331.25 533.19,329.68 534.43,328.12 535.67,326.55 536.92,324.98 538.16,323.41 539.40,321.84 540.64,320.26 541.88,318.69 543.12,317.11 544.37,315.53 545.61,313.95 546.85,312.37 548.09,310.78 549.33,309.20 550.58,307.61 551.82,306.03 553.06,304.44 554.30,302.85 555.54,301.26 556.79,299.67 558.03,298.08 559.27,296.49 560.51,294.90 561.75,293.31 563.00,291.71 564.24,290.12 565.48,288.52 566.72,286.93 567.96,285.34 569.20,283.74 570.45,282.14 571.69,280.55 572.93,278.95 574.17,277.35 575.41,275.76 576.66,274.16 577.90,272.56 579.14,270.96 580.38,269.36 581.62,267.77 582.86,266.17 584.11,264.57 585.35,262.97 586.59,261.37 587.83,259.77 589.07,258.17 590.32,256.57 591.56,254.97 592.80,253.36" fill="none" stroke="#0b6b0b" stroke-width="2.25" stroke-linejoin="round" stroke-linecap="round" />
<polyline points="394.10,471.39 395.34,469.99 396.58,468.59 397.83,467.18 399.07,465.78 400.31,464.38 401.55,462.98 402.79,461.58 404.04,460.18 405.28,458.78 406.52,457.38 407.76,455.98 409.00,454.58 410.24,453.18 411.49,451.78 412.73,450.38 413.97,448.99 415.21,447.59 416.45,446.19 417.70,444.80 418.94,443.40 420.18,442.00 421.42,440.61 422.66,439.21 423.90,437.82 425.15,436.43 426.39,435.03 427.63,433.64 428.87,432.25 430.11,430.86 431.36,429.47 432.60,428.08 433.84,426.69 435.08,425.30 436.32,423.92 437.57,422.53 438.81,421.15 440.05,419.77 441.29,418.38 442.53,417.00 443.77,415.62 445.02,414.25 446.26,412.87 447.50,411.50 448.74,410.12 449.98,408.75 451.23,407.39 452.47,406.02 453.71,404.66 454.95,403.30 456.19,401.94 457.44,400.59 458.68,399.24 459.92,397.90 461.16,396.56 462.40,395.22 463.64,393.89 464.89,392.57 466.13,391.25 467.37,389.95 468.61,388.65 469.85,387.36 471.10,386.08 472.34,384.82 473.58,383.57 474.82,382.34 476.06,381.13 477.31,379.95 478.55,378.79 479.79,377.66 481.03,376.58 482.27,375.54 483.51,374.55 484.76,373.63 486.00,372.79 487.24,372.03 488.48,371.39 489.72,370.86 490.97,370.47 492.21,370.23 493.45,370.15 494.69,370.23 495.93,370.47 497.18,370.86 498.42,371.39 499.66,372.03 500.90,372.79 502.14,373.63 503.38,374.55 504.63,375.54 505.87,376.58 507.11,377.66 508.35,378.79 509.59,379.95 510.84,381.13 512.08,382.34 513.32,383.57 514.56,384.82 515.80,386.08 517.05,387.36 518.29,388.65 519.53,389.95 520.77,391.25 522.01,392.57 523.25,393.89 524.50,395.22 525.74,396.56 526.98,397.90 528.22,399.24 529.46,400.59 530.71,401.94 531.95,403.30 533.19,404.66 534.43,406.02 535.67,407.39 536.92,408.75 538.16,410.12 539.40,411.50 540.64,412.87 541.88,414.25 543.12,415.62 544.37,417.00 545.61,418.38 546.85,419.77 548.09,421.15 549.33,422.53 550.58,423.92 551.82,425.30 553.06,426.69 554.30,428.08 555.54,429.47 556.79,430.86 558.03,432.25 559.27,433.64 560.51,435.03 561.75,436.43 563.00,437.82 564.24,439.21 565.48,440.61 566.72,442.00 567.96,443.40 569.20,444.80 570.45,446.19 571.69,447.59 572.93,448.99 574.17,450.38 575.41,451.78 576.66,453.18 577.90,454.58 579.14,455.98 580.38,457.38 581.62,458.78 582.86,460.18 584.11,461.58 585.35,462.98 586.59,464.38 587.83,465.78 589.07,467.18 590.32,468.59 591.56,469.99 592.80,471.39" fill="none" stroke="#0b6b0b" stroke-width="2.25" stroke-linejoin="round" stroke-linecap="round" />
<polyline points="394.10,223.49 395.34,225.41 396.58,227.32 397.83,229.23 399.07,231.14 400.31,233.05 401.55,234.96 402.79,236.86 404.04,238.76 405.28,240.65 406.52,242.55 407.76,244.44 409.00,246.32 410.24,248.21 411.49,250.09 412.73,251.96 413.97,253.84 415.21,255.71 416.45,257.57 417.70,259.43 418.94,261.29 420.18,263.14 421.42,264.98 422.66,266.82 423.90,268.66 425.15,270.49 426.39,272.31 427.63,274.13 428.87,275.94 430.11,277.75 431.36,279.55 432.60,281.34 433.84,283.12 435.08,284.90 436.32,286.66 437.57,288.42 438.81,290.17 440.05,291.91 441.29,293.63 442.53,295.35 443.77,297.05 445.02,298.75 446.26,300.43 447.50,302.09 448.74,303.75 449.98,305.38 451.23,307.00 452.47,308.61 453.71,310.19 454.95,311.76 456.19,313.31 457.44,314.83 458.68,316.34 459.92,317.81 461.16,319.27 462.40,320.69 463.64,322.09 464.89,323.46 466.13,324.79 467.37,326.09 468.61,327.36 469.85,328.58 471.10,329.77 472.34,330.91 473.58,332.01 474.82,333.06 476.06,334.05 477.31,335.00 478.55,335.89 479.79,336.72 481.03,337.49 482.27,338.19 483.51,338.83 484.76,339.40 486.00,339.90 487.24,340.33 488.48,340.68 489.72,340.95 490.97,341.15 492.21,341.27 493.45,341.31 494.69,341.27 495.93,341.15 497.18,340.95 498.42,340.68 499.66,340.33 500.90,339.90 502.14,339.40 503.38,338.83 504.63,338.19 505.87,337.49 507.11,336.72 508.35,335.89 509.59,335.00 510.84,334.05 512.08,333.06 513.32,332.01 514.56,330.91 515.80,329.77 517.05,328.58 518.29,327.36 519.53,326.09 520.77,324.79 522.01,323.46 523.25,322.09 524.50,320.69 525.74,319.27 526.98,317.81 528.22,316.34 529.46,314.83 530.71,313.31 531.95,311.76 533.19,310.19 534.43,308.61 535.67,307.00 536.92,305.38 538.16,303.75 539.40,302.09 540.64,300.43 541.88,298.75 543.12,297.05 544.37,295.35 545.61,293.63 546.85,291.91 548.09,290.17 549.33,288.42 550.58,286.66 551.82,284.90 553.06,283.12 554.30,281.34 555.54,279.55 556.79,277.75 558.03,275.94 559.27,274.13 560.51,272.31 561.75,270.49 563.00,268.66 564.24,266.82 565.48,264.98 566.72,263.14 567.96,261.29 569.20,259.43 570.45,257.57 571.69,255.71 572.93,253.84 574.17,251.96 575.41,250.09 576.66,248.21 577.90,246.32 579.14,244.44 580.38,242.55 581.62,240.65 582.86,238.76 584.11,236.86 585.35,234.96 586.59,233.05 587.83,231.14 589.07,229.23 590.32,227.32 591.56,225.41 592.80,223.49" fill="none" stroke="#1d7a1d" stroke-width="1.0" stroke-linejoin="round" stroke-linecap="round" />
<polyline points="394.10,99.77 395.34,104.26 396.58,108.69 397.83,113.07 399.07,117.39 400.31,121.66 401.55,125.86 402.79,130.01 404.04,134.11 405.28,138.15 406.52,142.13 407.76,146.05 409.00,149.92 410.24,153.73 411.49,157.49 412.73,161.19 413.97,164.83 415.21,168.42 416.45,171.95 417.70,175.42 418.94,178.84 420.18,182.20 421.42,185.50 422.66,188.75 423.90,191.94 425.15,195.07 426.39,198.15 427.63,201.17 428.87,204.14 430.11,207.05 431.36,209.90 432.60,212.69 433.84,215.43 435.08,218.12 436.32,220.74 437.57,223.31 438.81,225.83 440.05,228.28 441.29,230.68 442.53,233.03 443.77,235.31 445.02,237.54 446.26,239.72 447.50,241.84 448.74,243.90 449.98,245.90 451.23,247.85 452.47,249.74 453.71,251.58 454.95,253.36 456.19,255.08 457.44,256.75 458.68,258.36 459.92,259.91 461.16,261.41 462.40,262.85 463.64,264.23 464.89,265.56 466.13,266.83 467.37,268.04 468.61,269.20 469.85,270.30 471.10,271.35 472.34,272.33 473.58,273.27 474.82,274.14 476.06,274.96 477.31,275.72 478.55,276.43 479.79,277.08 481.03,277.67 482.27,278.21 483.51,278.69 484.76,279.11 486.00,279.48 487.24,279.79 488.48,280.04 489.72,280.24 490.97,280.38 492.21,280.47 493.45,280.49 494.69,280.47 495.93,280.38 497.18,280.24 498.42,280.04 499.66,279.79 500.90,279.48 502.14,279.11 503.38,278.69 504.63,278.21 505.87,277.67 507.11,277.08 508.35,276.43 509.59,275.72 510.84,274.96 512.08,274.14 513.32,273.27 514.56,272.33 515.80,271.35 517.05,270.30 518.29,269.20 519.53,268.04 520.77,266.83 522.01,265.56 523.25,264.23 524.50,262.85 525.74,261.41 526.98,259.91 528.22,258.36 529.46,256.75 530.71,255.08 531.95,253.36 533.19,251.58 534.43,249.74 535.67,247.85 536.92,245.90 538.16,243.90 539.40,241.84 540.64,239.72 541.88,237.54 543.12,235.31 544.37,233.03 545.61,230.68 546.85,228.28 548.09,225.83 549.33,223.31 550.58,220.74 551.82,218.12 553.06,215.43 554.30,212.69 555.54,209.90 556.79,207.05 558.03,204.14 559.27,201.17 560.51,198.15 561.75,195.07 563.00,191.94 564.24,188.75 565.48,185.50 566.72,182.20 567.96,178.84 569.20,175.42 570.45,171.95 571.69,168.42 572.93,164.83 574.17,161.19 575.41,157.49 576.66,153.73 577.90,149.92 579.14,146.05 580.38,142.13 581.62,138.15 582.86,134.11 584.11,130.01 585.35,125.86 586.59,121.66 587.83,117.39 589.07,113.07 590.32,108.69 591.56,104.26 592.80,99.77" fill="none" stroke="#1d7a1d" stroke-width="1.0" stroke-linejoin="round" stroke-linecap="round" />
<polyline points="394.10,222.30 395.34,223.87 396.58,225.41 397.83,226.94 399.07,228.44 400.31,229.92 401.55,231.39 402.79,232.83 404.04,234.26 405.28,235.67 406.52,237.05 407.76,238.42 409.00,239.77 410.24,241.09 411.49,242.40 412.73,243.69 413.97,244.96 415.21,246.21 416.45,247.44 417.70,248.65 418.94,249.84 420.18,251.01 421.42,252.16 422.66,253.29 423.90,254.40 425.15,255.49 426.39,256.56 427.63,257.61 428.87,258.65 430.11,259.66 431.36,260.65 432.60,261.63 433.84,262.58 435.08,263.51 436.32,264.43 437.57,265.32 438.81,266.20 440.05,267.05 441.29,267.89 442.53,268.71 443.77,269.50 445.02,270.28 446.26,271.04 447.50,271.77 448.74,272.49 449.98,273.19 451.23,273.87 452.47,274.53 453.71,275.17 454.95,275.78 456.19,276.38 457.44,276.96 458.68,277.53 459.92,278.07 461.16,278.59 462.40,279.09 463.64,279.57 464.89,280.03 466.13,280.48 467.37,280.90 468.61,281.30 469.85,281.68 471.10,282.05 472.34,282.39 473.58,282.72 474.82,283.02 476.06,283.31 477.31,283.57 478.55,283.82 479.79,284.04 481.03,284.25 482.27,284.44 483.51,284.60 484.76,284.75 486.00,284.88 487.24,284.99 488.48,285.08 489.72,285.15 490.97,285.19 492.21,285.22 493.45,285.23 494.69,285.22 495.93,285.19 497.18,285.15 498.42,285.08 499.66,284.99 500.90,284.88 502.14,284.75 503.38,284.60 504.63,284.44 505.87,284.25 507.11,284.04 508.35,283.82 509.59,283.57 510.84,283.31 512.08,283.02 513.32,282.72 514.56,282.39 515.80,282.05 517.05,281.68 518.29,281.30 519.53,280.90 520.77,280.48 522.01,280.03 523.25,279.57 524.50,279.09 525.74,278.59 526.98,278.07 528.22,277.53 529.46,276.96 530.71,276.38 531.95,275.78 533.19,275.17 534.43,274.53 535.67,273.87 536.92,273.19 538.16,272.49 539.40,271.77 540.64,271.04 541.88,270.28 543.12,269.50 544.37,268.71 545.61,267.89 546.85,267.05 548.09,266.20 549.33,265.32 550.58,264.43 551.82,263.51 553.06,262.58 554.30,261.63 555.54,260.65 556.79,259.66 558.03,258.65 559.27,257.61 560.51,256.56 561.75,255.49 563.00,254.40 564.24,253.29 565.48,252.16 566.72,251.01 567.96,249.84 569.20,248.65 570.45,247.44 571.69,246.21 572.93,244.96 574.17,243.69 575.41,242.40 576.66,241.09 577.90,239.77 579.14,238.42 580.38,237.05 581.62,235.67 582.86,234.26 584.11,232.83 585.35,231.39 586.59,229.92 587.83,228.44 589.07,226.94 590.32,225.41 591.56,223.87 592.80,222.30" fill="none" stroke="#1d7a1d" stroke-width="1.0" stroke-linejoin="round" stroke-linecap="round" />
<polyline points="394.10,221.90 395.34,223.54 396.58,225.17 397.83,226.77 399.07,228.35 400.31,229.91 401.55,231.45 402.79,232.97 404.04,234.47 405.28,235.95 406.52,237.41 407.76,238.84 409.00,240.26 410.24,241.65 411.49,243.03 412.73,244.38 413.97,245.72 415.21,247.03 416.45,248.32 417.70,249.59 418.94,250.84 420.18,252.07 421.42,253.28 422.66,254.47 423.90,255.64 425.15,256.79 426.39,257.92 427.63,259.02 428.87,260.11 430.11,261.17 431.36,262.22 432.60,263.24 433.84,264.24 435.08,265.22 436.32,266.18 437.57,267.13 438.81,268.05 440.05,268.94 441.29,269.82 442.53,270.68 443.77,271.52 445.02,272.34 446.26,273.13 447.50,273.91 448.74,274.66 449.98,275.40 451.23,276.11 452.47,276.80 453.71,277.47 454.95,278.12 456.19,278.75 457.44,279.36 458.68,279.95 459.92,280.52 461.16,281.07 462.40,281.60 463.64,282.10 464.89,282.59 466.13,283.05 467.37,283.50 468.61,283.92 469.85,284.33 471.10,284.71 472.34,285.07 473.58,285.41 474.82,285.73 476.06,286.03 477.31,286.31 478.55,286.57 479.79,286.81 481.03,287.02 482.27,287.22 483.51,287.40 484.76,287.55 486.00,287.69 487.24,287.80 488.48,287.89 489.72,287.97 490.97,288.02 492.21,288.05 493.45,288.06 494.69,288.05 495.93,288.02 497.18,287.97 498.42,287.89 499.66,287.80 500.90,287.69 502.14,287.55 503.38,287.40 504.63,287.22 505.87,287.02 507.11,286.81 508.35,286.57 509.59,286.31 510.84,286.03 512.08,285.73 513.32,285.41 514.56,285.07 515.80,284.71 517.05,284.33 518.29,283.92 519.53,283.50 520.77,283.05 522.01,282.59 523.25,282.10 524.50,281.60 525.74,281.07 526.98,280.52 528.22,279.95 529.46,279.36 530.71,278.75 531.95,278.12 533.19,277.47 534.43,276.80 535.67,276.11 536.92,275.40 538.16,274.66 539.40,273.91 540.64,273.13 541.88,272.34 543.12,271.52 544.37,270.68 545.61,269.82 546.85,268.94 548.09,268.05 549.33,267.13 550.58,266.18 551.82,265.22 553.06,264.24 554.30,263.24 555.54,262.22 556.79,261.17 558.03,260.11 559.27,259.02 560.51,257.92 561.75,256.79 563.00,255.64 564.24,254.47 565.48,253.28 566.72,252.07 567.96,250.84 569.20,249.59 570.45,248.32 571.69,247.03 572.93,245.72 574.17,244.38 575.41,243.03 576.66,241.65 577.90,240.26 579.14,238.84 580.38,237.41 581.62,235.95 582.86,234.47 584.11,232.97 585.35,231.45 586.59,229.91 587.83,228.35 589.07,226.77 590.32,225.17 591.56,223.54 592.80,221.90" fill="none" stroke="#1d7a1d" stroke-width="1.0" stroke-linejoin="round" stroke-linecap="round" />
<polyline points="394.10,525.76 395.34,523.80 396.58,521.84 397.83,519.89 399.07,517.94 400.31,515.99 401.55,514.04 402.79,512.09 404.04,510.14 405.28,508.20 406.52,506.26 407.76,504.32 409.00,502.38 410.24,500.44 411.49,498.51 412.73,496.58 413.97,494.65 415.21,492.72 416.45,490.80 417.70,488.87 418.94,486.96 420.18,485.04 421.42,483.13 422.66,481.22 423.90,479.31 425.15,477.41 426.39,475.51 427.63,473.62 428.87,471.73 430.11,469.84 431.36,467.96 432.60,466.08 433.84,464.21 435.08,462.34 436.32,460.48 437.57,458.63 438.81,456.78 440.05,454.94 441.29,453.10 442.53,451.28 443.77,449.46 445.02,447.65 446.26,445.85 447.50,444.05 448.74,442.27 449.98,440.50 451.23,438.74 452.47,437.00 453.71,435.26 454.95,433.55 456.19,431.84 457.44,430.15 458.68,428.49 459.92,426.83 461.16,425.20 462.40,423.60 463.64,422.01 464.89,420.45 466.13,418.92 467.37,417.42 468.61,415.95 469.85,414.52 471.10,413.12 472.34,411.76 473.58,410.45 474.82,409.19 476.06,407.98 477.31,406.82 478.55,405.72 479.79,404.69 481.03,403.72 482.27,402.83 483.51,402.01 484.76,401.28 486.00,400.63 487.24,400.08 488.48,399.62 489.72,399.26 490.97,399.00 492.21,398.84 493.45,398.79 494.69,398.84 495.93,399.00 497.18,399.26 498.42,399.62 499.66,400.08 500.90,400.63 502.14,401.28 503.38,402.01 504.63,402.83 505.87,403.72 507.11,404.69 508.35,405.72 509.59,406.82 510.84,407.98 512.08,409.19 513.32,410.45 514.56,411.76 515.80,413.12 517.05,414.52 518.29,415.95 519.53,417.42 520.77,418.92 522.01,420.45 523.25,422.01 524.50,423.60 525.74,425.20 526.98,426.83 528.22,428.49 529.46,430.15 530.71,431.84 531.95,433.55 533.19,435.26 534.43,437.00 535.67,438.74 536.92,440.50 538.16,442.27 539.40,444.05 540.64,445.85 541.88,447.65 543.12,449.46 544.37,451.28 545.61,453.10 546.85,454.94 548.09,456.78 549.33,458.63 550.58,460.48 551.82,462.34 553.06,464.21 554.30,466.08 555.54,467.96 556.79,469.84 558.03,471.73 559.27,473.62 560.51,475.51 561.75,477.41 563.00,479.31 564.24,481.22 565.48,483.13 566.72,485.04 567.96,486.96 569.20,488.87 570.45,490.80 571.69,492.72 572.93,494.65 574.17,496.58 575.41,498.51 576.66,500.44 577.90,502.38 579.14,504.32 580.38,506.26 581.62,508.20 582.86,510.14 584.11,512.09 585.35,514.04 586.59,515.99 587.83,517.94 589.07,519.89 590.32,521.84 591.56,523.80 592.80,525.76" fill="none" stroke="#1d7a1d" stroke-width="1.0" stroke-linejoin="round" stroke-linecap="round" />
<polyline points="394.10,507.99 395.34,506.64 396.58,505.28 397.83,503.90 399.07,502.52 400.31,501.14 401.55,499.74 402.79,498.35 404.04,496.95 405.28,495.54 406.52,494.14 407.76,492.74 409.00,491.34 410.24,489.95 411.49,488.56 412.73,487.18 413.97,485.80 415.21,484.44 416.45,483.08 417.70,481.74 418.94,480.41 420.18,479.09 421.42,477.79 422.66,476.50 423.90,475.23 425.15,473.98 426.39,472.75 427.63,471.54 428.87,470.35 430.11,469.18 431.36,468.04 432.60,466.91 433.84,465.82 435.08,464.75 436.32,463.71 437.57,462.69 438.81,461.71 440.05,460.75 441.29,459.83 442.53,458.93 443.77,458.07 445.02,457.24 446.26,456.45 447.50,455.69 448.74,454.96 449.98,454.27 451.23,453.62 452.47,452.99 453.71,452.37 454.95,451.77 456.19,451.17 457.44,450.60 458.68,450.03 459.92,449.48 461.16,448.95 462.40,448.43 463.64,447.93 464.89,447.45 466.13,446.98 467.37,446.53 468.61,446.10 469.85,445.69 471.10,445.29 472.34,444.92 473.58,444.56 474.82,444.23 476.06,443.91 477.31,443.62 478.55,443.35 479.79,443.10 481.03,442.86 482.27,442.65 483.51,442.47 484.76,442.30 486.00,442.16 487.24,442.03 488.48,441.93 489.72,441.85 490.97,441.80 492.21,441.76 493.45,441.75 494.69,441.76 495.93,441.80 497.18,441.85 498.42,441.93 499.66,442.03 500.90,442.16 502.14,442.30 503.38,442.47 504.63,442.65 505.87,442.86 507.11,443.10 508.35,443.35 509.59,443.62 510.84,443.91 512.08,444.23 513.32,444.56 514.56,444.92 515.80,445.29 517.05,445.69 518.29,446.10 519.53,446.53 520.77,446.98 522.01,447.45 523.25,447.93 524.50,448.43 525.74,448.95 526.98,449.48 528.22,450.03 529.46,450.60 530.71,451.17 531.95,451.77 533.19,452.37 534.43,452.99 535.67,453.62 536.92,454.27 538.16,454.96 539.40,455.69 540.64,456.45 541.88,457.24 543.12,458.07 544.37,458.93 545.61,459.83 546.85,460.75 548.09,461.71 549.33,462.69 550.58,463.71 551.82,464.75 553.06,465.82 554.30,466.91 555.54,468.04 556.79,469.18 558.03,470.35 559.27,471.54 560.51,472.75 561.75,473.98 563.00,475.23 564.24,476.50 565.48,477.79 566.72,479.09 567.96,480.41 569.20,481.74 570.45,483.08 571.69,484.44 572.93,485.80 574.17,487.18 575.41,488.56 576.66,489.95 577.90,491.34 579.14,492.74 580.38,494.14 581.62,495.54 582.86,496.95 584.11,498.35 585.35,499.74 586.59,501.14 587.83,502.52 589.07,503.90 590.32,505.28 591.56,506.64 592.80,507.99" fill="none" stroke="#1d7a1d" stroke-width="1.0" stroke-linejoin="round" stroke-linecap="round" />
<polyline points="394.10,480.67 395.34,480.50 396.58,480.28 397.83,480.04 399.07,479.75 400.31,479.44 401.55,479.09 402.79,478.71 404.04,478.30 405.28,477.87 406.52,477.41 407.76,476.93 409.00,476.42 410.24,475.89 411.49,475.34 412.73,474.77 413.97,474.19 415.21,473.58 416.45,472.96 417.70,472.33 418.94,471.68 420.18,471.02 421.42,470.35 422.66,469.67 423.90,468.99 425.15,468.29 426.39,467.59 427.63,466.88 428.87,466.17 430.11,465.45 431.36,464.73 432.60,464.01 433.84,463.29 435.08,462.57 436.32,461.85 437.57,461.13 438.81,460.42 440.05,459.71 441.29,459.00 442.53,458.30 443.77,457.61 445.02,456.92 446.26,456.24 447.50,455.57 448.74,454.91 449.98,454.26 451.23,453.62 452.47,452.99 453.71,452.37 454.95,451.77 456.19,451.17 457.44,450.60 458.68,450.03 459.92,449.48 461.16,448.95 462.40,448.43 463.64,447.93 464.89,447.45 466.13,446.98 467.37,446.53 468.61,446.10 469.85,445.69 471.10,445.29 472.34,444.92 473.58,444.56 474.82,444.23 476.06,443.91 477.31,443.62 478.55,443.35 479.79,443.10 481.03,442.86 482.27,442.65 483.51,442.47 484.76,442.30 486.00,442.16 487.24,442.03 488.48,441.93 489.72,441.85 490.97,441.80 492.21,441.76 493.45,441.75 494.69,441.76 495.93,441.80 497.18,441.85 498.42,441.93 499.66,442.03 500.90,442.16 502.14,442.30 503.38,442.47 504.63,442.65 505.87,442.86 507.11,443.10 508.35,443.35 509.59,443.62 510.84,443.91 512.08,444.23 513.32,444.56 514.56,444.92 515.80,445.29 517.05,445.69 518.29,446.10 519.53,446.53 520.77,446.98 522.01,447.45 523.25,447.93 524.50,448.43 525.74,448.95 526.98,449.48 528.22,450.03 529.46,450.60 530.71,451.17 531.95,451.77 533.19,452.37 534.43,452.99 535.67,453.62 536.92,454.26 538.16,454.91 539.40,455.57 540.64,456.24 541.88,456.92 543.12,457.61 544.37,458.30 545.61,459.00 546.85,459.71 548.09,460.42 549.33,461.13 550.58,461.85 551.82,462.57 553.06,463.29 554.30,464.01 555.54,464.73 556.79,465.45 558.03,466.17 559.27,466.88 560.51,467.59 561.75,468.29 563.00,468.99 564.24,469.67 565.48,470.35 566.72,471.02 567.96,471.68 569.20,472.33 570.45,472.96 571.69,473.58 572.93,474.19 574.17,474.77 575.41,475.34 576.66,475.89 577.90,476.42 579.14,476.93 580.38,477.41 581.62,477.87 582.86,478.30 584.11,478.71 585.35,479.09 586.59,479.44 587.83,479.75 589.07,480.04 590.32,480.28 591.56,480.50 592.80,480.67" fill="none" stroke="#1d7a1d" stroke-width="1.5" stroke-linejoin="round" stroke-linecap="round" />
<polyline points="394.10,509.02 395.34,507.94 396.58,506.87 397.83,505.81 399.07,504.77 400.31,503.74 401.55,502.73 402.79,501.73 404.04,500.74 405.28,499.77 406.52,498.81 407.76,497.86 409.00,496.93 410.24,496.01 411.49,495.11 412.73,494.21 413.97,493.34 415.21,492.47 416.45,491.62 417.70,490.78 418.94,489.96 420.18,489.15 421.42,488.35 422.66,487.57 423.90,486.80 425.15,486.05 426.39,485.30 427.63,484.58 428.87,483.86 430.11,483.16 431.36,482.47 432.60,481.80 433.84,481.14 435.08,480.49 436.32,479.86 437.57,479.24 438.81,478.63 440.05,478.04 441.29,477.46 442.53,476.90 443.77,476.35 445.02,475.81 446.26,475.28 447.50,474.77 448.74,474.28 449.98,473.79 451.23,473.32 452.47,472.87 453.71,472.42 454.95,472.00 456.19,471.58 457.44,471.18 458.68,470.79 459.92,470.42 461.16,470.06 462.40,469.71 463.64,469.37 464.89,469.05 466.13,468.75 467.37,468.46 468.61,468.18 469.85,467.91 471.10,467.66 472.34,467.42 473.58,467.20 474.82,466.98 476.06,466.79 477.31,466.60 478.55,466.43 479.79,466.28 481.03,466.13 482.27,466.00 483.51,465.89 484.76,465.79 486.00,465.70 487.24,465.62 488.48,465.56 489.72,465.51 490.97,465.48 492.21,465.46 493.45,465.45 494.69,465.46 495.93,465.48 497.18,465.51 498.42,465.56 499.66,465.62 500.90,465.70 502.14,465.79 503.38,465.89 504.63,466.00 505.87,466.13 507.11,466.28 508.35,466.43 509.59,466.60 510.84,466.79 512.08,466.98 513.32,467.20 514.56,467.42 515.80,467.66 517.05,467.91 518.29,468.18 519.53,468.46 520.77,468.75 522.01,469.05 523.25,469.37 524.50,469.71 525.74,470.06 526.98,470.42 528.22,470.79 529.46,471.18 530.71,471.58 531.95,472.00 533.19,472.42 534.43,472.87 535.67,473.32 536.92,473.79 538.16,474.28 539.40,474.77 540.64,475.28 541.88,475.81 543.12,476.35 544.37,476.90 545.61,477.46 546.85,478.04 548.09,478.63 549.33,479.24 550.58,479.86 551.82,480.49 553.06,481.14 554.30,481.80 555.54,482.47 556.79,483.16 558.03,483.86 559.27,484.58 560.51,485.30 561.75,486.05 563.00,486.80 564.24,487.57 565.48,488.35 566.72,489.15 567.96,489.96 569.20,490.78 570.45,491.62 571.69,492.47 572.93,493.34 574.17,494.21 575.41,495.11 576.66,496.01 577.90,496.93 579.14,497.86 580.38,498.81 581.62,499.77 582.86,500.74 584.11,501.73 585.35,502.73 586.59,503.74 587.83,504.77 589.07,505.81 590.32,506.87 591.56,507.94 592.80,509.02" fill="none" stroke="#d24a4a" stroke-width="1.2" stroke-linejoin="round" stroke-linecap="round" />
<polyline points="481.03,473.42 482.27,472.65 483.51,471.97 484.76,471.36 486.00,470.84 487.24,470.39 488.48,470.03 489.72,469.75 490.97,469.55 492.21,469.43 493.45,469.39 494.69,469.43 495.93,469.55 497.18,469.75 498.42,470.03 499.66,470.39 500.90,470.84 502.14,471.36 503.38,471.97 504.63,472.65 505.87,473.42" fill="none" stroke="#1d7a1d" stroke-width="1.2" stroke-linejoin="round" stroke-linecap="round" />
</g>
<line x1="493.45" y1="366.20" x2="493.45" y2="346.00" stroke="#1d7a1d" stroke-width="1.7" stroke-dasharray="6.6 2.8"/>
<polyline points="489.45,348.20 493.45,342.30 497.45,348.20" fill="none" stroke="#1d7a1d" stroke-width="1.6" stroke-linejoin="round" stroke-linecap="round" />
<text x="480.0" y="328.8" font-family="Liberation Serif" font-size="13.7" font-weight="bold" fill="#1d7a1d"><tspan font-style="italic">J</tspan><tspan font-style="italic" font-size="8.5" dy="-4.5">c</tspan><tspan dy="4.5"> = 2</tspan></text>
<text x="474.0" y="390.5" font-family="Liberation Serif" font-size="13.6" font-weight="bold" fill="#1d7a1d"><tspan font-style="italic">J</tspan><tspan font-style="italic" font-size="8.5" dy="-4.5">v</tspan><tspan dy="4.5"> = -1</tspan></text>
<line x1="493.45" y1="471.00" x2="493.45" y2="468.60" stroke="#6e6e6e" stroke-width="1.0" />
<line x1="493.45" y1="269.30" x2="493.45" y2="271.70" stroke="#6e6e6e" stroke-width="1.0" />
<line x1="394.10" y1="450.83" x2="396.50" y2="450.83" stroke="#6e6e6e" stroke-width="1.0" />
<line x1="592.80" y1="450.83" x2="590.40" y2="450.83" stroke="#6e6e6e" stroke-width="1.0" />
<line x1="394.10" y1="430.66" x2="396.50" y2="430.66" stroke="#6e6e6e" stroke-width="1.0" />
<line x1="592.80" y1="430.66" x2="590.40" y2="430.66" stroke="#6e6e6e" stroke-width="1.0" />
<line x1="394.10" y1="410.49" x2="396.50" y2="410.49" stroke="#6e6e6e" stroke-width="1.0" />
<line x1="592.80" y1="410.49" x2="590.40" y2="410.49" stroke="#6e6e6e" stroke-width="1.0" />
<line x1="394.10" y1="390.32" x2="396.50" y2="390.32" stroke="#6e6e6e" stroke-width="1.0" />
<line x1="592.80" y1="390.32" x2="590.40" y2="390.32" stroke="#6e6e6e" stroke-width="1.0" />
<line x1="394.10" y1="370.15" x2="396.50" y2="370.15" stroke="#6e6e6e" stroke-width="1.0" />
<line x1="592.80" y1="370.15" x2="590.40" y2="370.15" stroke="#6e6e6e" stroke-width="1.0" />
<line x1="394.10" y1="349.98" x2="396.50" y2="349.98" stroke="#6e6e6e" stroke-width="1.0" />
<line x1="592.80" y1="349.98" x2="590.40" y2="349.98" stroke="#6e6e6e" stroke-width="1.0" />
<line x1="394.10" y1="329.81" x2="396.50" y2="329.81" stroke="#6e6e6e" stroke-width="1.0" />
<line x1="592.80" y1="329.81" x2="590.40" y2="329.81" stroke="#6e6e6e" stroke-width="1.0" />
<line x1="394.10" y1="309.64" x2="396.50" y2="309.64" stroke="#6e6e6e" stroke-width="1.0" />
<line x1="592.80" y1="309.64" x2="590.40" y2="309.64" stroke="#6e6e6e" stroke-width="1.0" />
<line x1="394.10" y1="289.47" x2="396.50" y2="289.47" stroke="#6e6e6e" stroke-width="1.0" />
<line x1="592.80" y1="289.47" x2="590.40" y2="289.47" stroke="#6e6e6e" stroke-width="1.0" />
<rect x="394.1" y="269.3" width="198.70" height="201.70" fill="none" stroke="#7d7d7d" stroke-width="1.3"/>
<text x="389.50" y="273.60" font-family="Liberation Serif" font-size="13.2" font-weight="normal" font-style="normal" fill="#1e1e1e" text-anchor="end" stroke="#1e1e1e" stroke-width="0.3" >0.5</text>
<text x="389.50" y="293.77" font-family="Liberation Serif" font-size="13.2" font-weight="normal" font-style="normal" fill="#1e1e1e" text-anchor="end" stroke="#1e1e1e" stroke-width="0.3" >0.4</text>
<text x="389.50" y="313.94" font-family="Liberation Serif" font-size="13.2" font-weight="normal" font-style="normal" fill="#1e1e1e" text-anchor="end" stroke="#1e1e1e" stroke-width="0.3" >0.3</text>
<text x="389.50" y="334.11" font-family="Liberation Serif" font-size="13.2" font-weight="normal" font-style="normal" fill="#1e1e1e" text-anchor="end" stroke="#1e1e1e" stroke-width="0.3" >0.2</text>
<text x="389.50" y="354.28" font-family="Liberation Serif" font-size="13.2" font-weight="normal" font-style="normal" fill="#1e1e1e" text-anchor="end" stroke="#1e1e1e" stroke-width="0.3" >0.1</text>
<text x="389.50" y="374.45" font-family="Liberation Serif" font-size="13.2" font-weight="normal" font-style="normal" fill="#1e1e1e" text-anchor="end" stroke="#1e1e1e" stroke-width="0.3" >0</text>
<text x="389.50" y="394.62" font-family="Liberation Serif" font-size="13.2" font-weight="normal" font-style="normal" fill="#1e1e1e" text-anchor="end" stroke="#1e1e1e" stroke-width="0.3" >-0.1</text>
<text x="389.50" y="414.79" font-family="Liberation Serif" font-size="13.2" font-weight="normal" font-style="normal" fill="#1e1e1e" text-anchor="end" stroke="#1e1e1e" stroke-width="0.3" >-0.2</text>
<text x="389.50" y="434.96" font-family="Liberation Serif" font-size="13.2" font-weight="normal" font-style="normal" fill="#1e1e1e" text-anchor="end" stroke="#1e1e1e" stroke-width="0.3" >-0.3</text>
<text x="389.50" y="455.13" font-family="Liberation Serif" font-size="13.2" font-weight="normal" font-style="normal" fill="#1e1e1e" text-anchor="end" stroke="#1e1e1e" stroke-width="0.3" >-0.4</text>
<text x="389.50" y="475.30" font-family="Liberation Serif" font-size="13.2" font-weight="normal" font-style="normal" fill="#1e1e1e" text-anchor="end" stroke="#1e1e1e" stroke-width="0.3" >-0.5</text>
<text x="394.10" y="487.40" font-family="Liberation Serif" font-size="13.3" font-weight="normal" font-style="normal" fill="#1e1e1e" text-anchor="middle" stroke="#1e1e1e" stroke-width="0.3" >-0.4</text>
<text x="493.45" y="487.40" font-family="Liberation Serif" font-size="13.3" font-weight="normal" font-style="normal" fill="#1e1e1e" text-anchor="middle" stroke="#1e1e1e" stroke-width="0.3" >0</text>
<text x="592.80" y="487.40" font-family="Liberation Serif" font-size="13.3" font-weight="normal" font-style="normal" fill="#1e1e1e" text-anchor="middle" stroke="#1e1e1e" stroke-width="0.3" >0.4</text>
<text x="477.5" y="497.3" font-family="Liberation Serif" font-size="13.2" font-style="italic" font-weight="bold" fill="#1e1e1e">k<tspan font-size="10" dy="6.3">x</tspan><tspan dy="-6.3" dx="0.8">a</tspan><tspan font-size="10" dy="6.3" dx="0.3">x</tspan><tspan dy="-6.3" dx="0.4">/</tspan><tspan dx="0.6" font-size="15.5">π</tspan></text>
<text transform="translate(363.6,386.2) rotate(-90)" font-family="Liberation Serif" font-size="13.6" font-style="italic" font-weight="bold" fill="#1e1e1e">E (t<tspan font-size="10" dy="5.2">0</tspan><tspan dy="-5.2">)</tspan></text>
<text x="345.50" y="264.40" font-family="Liberation Serif" font-size="18.5" font-weight="bold" font-style="normal" fill="#b3000c" text-anchor="start" >(c)</text>
<line x1="605.20" y1="449.54" x2="687.40" y2="449.54" stroke="#e3e3e3" stroke-width="1" />
<line x1="605.20" y1="429.48" x2="687.40" y2="429.48" stroke="#e3e3e3" stroke-width="1" />
<line x1="605.20" y1="409.42" x2="687.40" y2="409.42" stroke="#e3e3e3" stroke-width="1" />
<line x1="605.20" y1="389.36" x2="687.40" y2="389.36" stroke="#e3e3e3" stroke-width="1" />
<line x1="605.20" y1="369.30" x2="687.40" y2="369.30" stroke="#e3e3e3" stroke-width="1" />
<line x1="605.20" y1="349.24" x2="687.40" y2="349.24" stroke="#e3e3e3" stroke-width="1" />
<line x1="605.20" y1="329.18" x2="687.40" y2="329.18" stroke="#e3e3e3" stroke-width="1" />
<line x1="605.20" y1="309.12" x2="687.40" y2="309.12" stroke="#e3e3e3" stroke-width="1" />
<line x1="605.20" y1="289.06" x2="687.40" y2="289.06" stroke="#e3e3e3" stroke-width="1" />
<line x1="646.30" y1="269.00" x2="646.30" y2="469.60" stroke="#e3e3e3" stroke-width="1" />
<clipPath id="ce"><rect x="605.2" y="269.0" width="82.20" height="200.60"/></clipPath>
<g clip-path="url(#ce)">
<polyline points="615.50,269.20 615.80,280.00 616.10,296.00 617.00,300.00 616.30,310.00 616.00,330.00 616.30,337.50 619.50,339.00 622.40,340.20 619.00,342.00 612.00,343.80 610.60,346.00 610.60,360.00 612.00,365.50 618.00,367.50 623.60,369.00 618.00,370.50 613.00,373.00 612.30,378.40 612.30,392.50 616.00,395.80 621.70,397.70 618.00,399.50 617.00,404.00 616.50,420.00 616.80,430.00 616.40,434.00 615.70,440.00 615.60,469.50" fill="none" stroke="#0000e6" stroke-width="1.7" stroke-linejoin="round" stroke-linecap="round" />
<polyline points="617.60,269.20 617.00,276.00 616.60,284.00 616.30,291.00 616.60,296.00 617.00,300.00 616.30,310.00 616.00,330.00 616.30,337.50 619.50,339.00 622.40,340.20 619.00,342.00 612.00,343.80 610.60,346.00 610.60,360.00 612.00,365.50 618.00,367.50 623.60,369.00 618.00,370.50 613.00,373.00 612.30,378.40 612.30,392.50 616.00,395.80 621.70,397.70 618.00,399.50 617.00,404.00 616.50,420.00 616.80,430.00 616.40,434.00 616.00,440.00 616.10,448.00 616.80,454.00 619.00,457.00 624.00,459.30 635.00,461.20 645.00,462.20 659.30,462.90 652.00,464.20 645.00,466.00 655.00,467.60 665.00,468.70 672.90,469.30" fill="none" stroke="#e60000" stroke-width="1.7" stroke-linejoin="round" stroke-linecap="round" />
<polyline points="644.30,269.20 647.10,272.90 650.50,275.80 654.30,277.90 658.00,278.80 660.70,279.40 658.00,281.00 655.70,282.10 660.00,283.50 665.00,284.40 670.00,285.00 666.00,286.20 662.90,286.90 650.00,287.60 635.00,288.20 624.30,289.30 620.00,291.50 617.80,295.00 617.00,300.00 616.30,310.00 616.00,330.00 616.30,337.50 619.50,339.00 622.40,340.20 619.00,342.00 612.00,343.80 610.60,346.00 610.60,360.00 612.00,365.50 618.00,367.50 623.60,369.00 618.00,370.50 613.00,373.00 612.30,378.40 612.30,392.50 616.00,395.80 621.70,397.70 618.00,399.50 617.00,404.00 616.50,420.00 616.80,430.00 618.00,434.00 622.00,437.00 632.00,439.00 650.00,439.60 670.00,440.00 684.30,440.30 672.00,441.50 655.00,443.20 646.00,444.30 640.00,447.50 636.50,452.00 635.00,457.00 635.30,461.40 637.50,465.00 642.00,467.30 650.00,468.60 655.00,469.30" fill="none" stroke="#006400" stroke-width="2.0" stroke-linejoin="round" stroke-linecap="round" />
</g>
<line x1="646.30" y1="469.60" x2="646.30" y2="467.20" stroke="#6e6e6e" stroke-width="1.0" />
<line x1="646.30" y1="269.00" x2="646.30" y2="271.40" stroke="#6e6e6e" stroke-width="1.0" />
<line x1="605.20" y1="449.54" x2="607.60" y2="449.54" stroke="#6e6e6e" stroke-width="1.0" />
<line x1="687.40" y1="449.54" x2="685.00" y2="449.54" stroke="#6e6e6e" stroke-width="1.0" />
<line x1="605.20" y1="429.48" x2="607.60" y2="429.48" stroke="#6e6e6e" stroke-width="1.0" />
<line x1="687.40" y1="429.48" x2="685.00" y2="429.48" stroke="#6e6e6e" stroke-width="1.0" />
<line x1="605.20" y1="409.42" x2="607.60" y2="409.42" stroke="#6e6e6e" stroke-width="1.0" />
<line x1="687.40" y1="409.42" x2="685.00" y2="409.42" stroke="#6e6e6e" stroke-width="1.0" />
<line x1="605.20" y1="389.36" x2="607.60" y2="389.36" stroke="#6e6e6e" stroke-width="1.0" />
<line x1="687.40" y1="389.36" x2="685.00" y2="389.36" stroke="#6e6e6e" stroke-width="1.0" />
<line x1="605.20" y1="369.30" x2="607.60" y2="369.30" stroke="#6e6e6e" stroke-width="1.0" />
<line x1="687.40" y1="369.30" x2="685.00" y2="369.30" stroke="#6e6e6e" stroke-width="1.0" />
<line x1="605.20" y1="349.24" x2="607.60" y2="349.24" stroke="#6e6e6e" stroke-width="1.0" />
<line x1="687.40" y1="349.24" x2="685.00" y2="349.24" stroke="#6e6e6e" stroke-width="1.0" />
<line x1="605.20" y1="329.18" x2="607.60" y2="329.18" stroke="#6e6e6e" stroke-width="1.0" />
<line x1="687.40" y1="329.18" x2="685.00" y2="329.18" stroke="#6e6e6e" stroke-width="1.0" />
<line x1="605.20" y1="309.12" x2="607.60" y2="309.12" stroke="#6e6e6e" stroke-width="1.0" />
<line x1="687.40" y1="309.12" x2="685.00" y2="309.12" stroke="#6e6e6e" stroke-width="1.0" />
<line x1="605.20" y1="289.06" x2="607.60" y2="289.06" stroke="#6e6e6e" stroke-width="1.0" />
<line x1="687.40" y1="289.06" x2="685.00" y2="289.06" stroke="#6e6e6e" stroke-width="1.0" />
<rect x="605.2" y="269.0" width="82.20" height="200.60" fill="none" stroke="#7d7d7d" stroke-width="1.3"/>
<text transform="translate(605.20,488.7) scale(0.78,1)" font-family="Liberation Serif" font-size="15.3" fill="#1e1e1e" text-anchor="middle">0</text>
<text transform="translate(646.30,488.7) scale(0.78,1)" font-family="Liberation Serif" font-size="15.3" fill="#1e1e1e" text-anchor="middle">2</text>
<text transform="translate(687.40,488.7) scale(0.78,1)" font-family="Liberation Serif" font-size="15.3" fill="#1e1e1e" text-anchor="middle">4</text>
<text transform="translate(646.2,502.2) scale(0.875,1)" font-family="Liberation Serif" font-size="14.2" font-style="italic" font-weight="bold" fill="#1e1e1e" text-anchor="middle">DOS (arb.unit)</text>
</g>
</svg>
</body></html>
